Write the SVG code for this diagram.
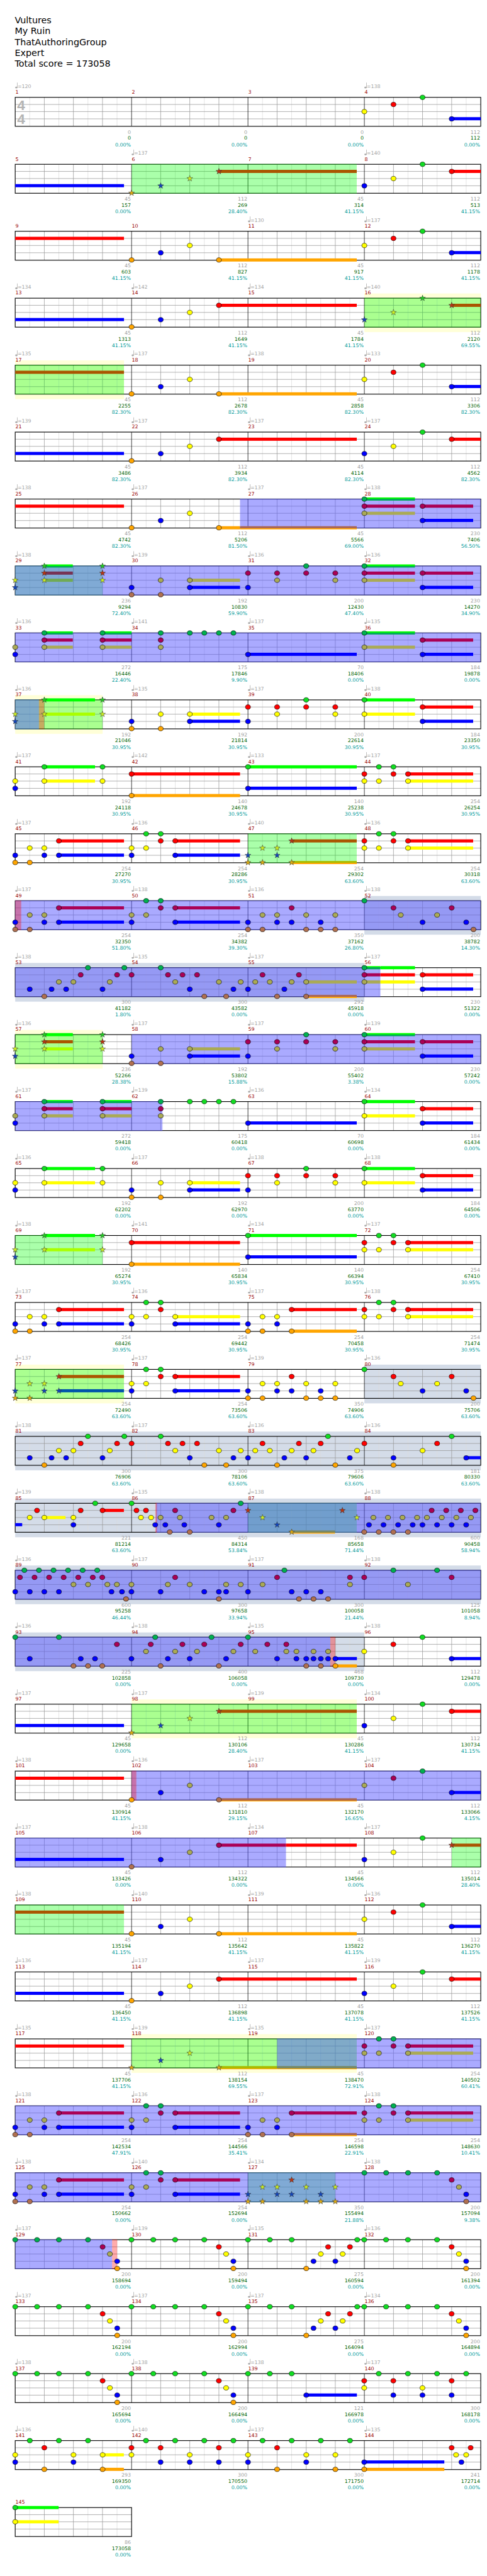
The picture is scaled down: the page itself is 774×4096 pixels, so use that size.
<svg xmlns="http://www.w3.org/2000/svg" xmlns:xlink="http://www.w3.org/1999/xlink" width="774" height="4096" viewBox="0 0 774 4096">
<style>
text{font-family:"DejaVu Sans","Liberation Sans",sans-serif;font-size:10.5px}
.tp{fill:#a4a4a4}.mn{fill:#990000}.la{fill:#a0a0a0;text-anchor:end}.lb{fill:#006400;text-anchor:end}.lc{fill:#009a9a;text-anchor:end}
.ti{font-size:19px;fill:#000}
.sig{font-family:"Liberation Sans",sans-serif;font-size:30px;font-weight:bold;fill:#b4b4b4}
.gz{fill:#00ff00;fill-opacity:.333}.pz{fill:#5555ff;fill-opacity:.5}.kz{fill:#ff0000;fill-opacity:.33}.yb{fill:#ffffd8}.bb{fill:#d4dce8}
.bG{fill:#00ff00}.bR{fill:#ff0000}.bY{fill:#ffff00}.bB{fill:#0000ff}.bO{fill:#ffa500}
.pG{fill:url(#gG)}.pR{fill:#aa0055}.pY{fill:#aaaa55}.pB{fill:#0000ff}.pO{fill:url(#gO)}
.hR{fill:#aa5500}.hY{fill:#aaff00}.hB{fill:#0055aa}.hO{fill:url(#gH)}
.qR{fill:#773355}.qY{fill:#70aa55}.qO{fill:url(#gQ)}
</style>
<defs>
<linearGradient id="gG" x1="0" y1="0" x2="0" y2="1"><stop offset=".45" stop-color="#00ff00"/><stop offset=".45" stop-color="#00aa55"/></linearGradient>
<linearGradient id="gO" x1="0" y1="0" x2="0" y2="1"><stop offset=".7" stop-color="#aa6655"/><stop offset=".7" stop-color="#ffa500"/></linearGradient>
<linearGradient id="gH" x1="0" y1="0" x2="0" y2="1"><stop offset=".7" stop-color="#aabb00"/><stop offset=".7" stop-color="#ffa500"/></linearGradient>
<linearGradient id="gQ" x1="0" y1="0" x2="0" y2="1"><stop offset=".7" stop-color="#778866"/><stop offset=".7" stop-color="#ffa500"/></linearGradient>
<ellipse id="nG" cy="205" rx="5.3" ry="4.8" fill="#11dd22" stroke="#000" stroke-width=".8"/>
<ellipse id="nR" cy="220" rx="5.3" ry="4.8" fill="#ff0000" stroke="#000" stroke-width=".8"/>
<ellipse id="nY" cy="235" rx="5.3" ry="4.8" fill="#ffff00" stroke="#000" stroke-width=".8"/>
<ellipse id="nB" cy="250.3" rx="5.3" ry="4.8" fill="#0000ff" stroke="#000" stroke-width=".8"/>
<ellipse id="nO" cy="265.5" rx="5.3" ry="4.8" fill="#ffa500" stroke="#000" stroke-width=".8"/>
<ellipse id="sG" cy="205" rx="5.3" ry="4.8" fill="#00b050" stroke="#000" stroke-width=".8"/>
<ellipse id="sR" cy="220" rx="5.3" ry="4.8" fill="#aa0055" stroke="#000" stroke-width=".8"/>
<ellipse id="sY" cy="235" rx="5.3" ry="4.8" fill="#aaaa55" stroke="#000" stroke-width=".8"/>
<ellipse id="sB" cy="250.3" rx="5.3" ry="4.8" fill="#0000ff" stroke="#000" stroke-width=".8"/>
<ellipse id="sO" cy="265.5" rx="5.3" ry="4.8" fill="#b07050" stroke="#000" stroke-width=".8"/>
<path id="tG" transform="translate(0,205)" d="M0,-6.5L1.53,-2.1 6.18,-2.01 2.47,.8 3.82,5.26 0,2.6-3.82,5.26-2.47,.8-6.18,-2.01-1.53,-2.1Z" fill="#22cc22" stroke="#333" stroke-width=".7"/>
<path id="tR" transform="translate(0,220)" d="M0,-6.5L1.53,-2.1 6.18,-2.01 2.47,.8 3.82,5.26 0,2.6-3.82,5.26-2.47,.8-6.18,-2.01-1.53,-2.1Z" fill="#bb3311" stroke="#333" stroke-width=".7"/>
<path id="tY" transform="translate(0,235)" d="M0,-6.5L1.53,-2.1 6.18,-2.01 2.47,.8 3.82,5.26 0,2.6-3.82,5.26-2.47,.8-6.18,-2.01-1.53,-2.1Z" fill="#ccee22" stroke="#333" stroke-width=".7"/>
<path id="tB" transform="translate(0,250.3)" d="M0,-6.5L1.53,-2.1 6.18,-2.01 2.47,.8 3.82,5.26 0,2.6-3.82,5.26-2.47,.8-6.18,-2.01-1.53,-2.1Z" fill="#1144bb" stroke="#333" stroke-width=".7"/>
<path id="tO" transform="translate(0,265.5)" d="M0,-6.5L1.53,-2.1 6.18,-2.01 2.47,.8 3.82,5.26 0,2.6-3.82,5.26-2.47,.8-6.18,-2.01-1.53,-2.1Z" fill="#ddaa11" stroke="#333" stroke-width=".7"/>
<g id="tq" fill="#aaaaaa"><ellipse cx="2.4" cy="184.3" rx="2.4" ry="1.9"/><rect x="4" y="174" width="1" height="10.5"/></g>
<g id="grid" fill="none">
<path stroke="#dddddd" d="M62.6,205V266M123.9,205V266M185.1,205V266M246.4,205V266M307.6,205V266M368.9,205V266M430.1,205V266M491.4,205V266M552.6,205V266M613.9,205V266M675.1,205V266M736.4,205V266M797.6,205V266M858.9,205V266M920.1,205V266M981.4,205V266"/>
<path stroke="#999999" d="M93.3,205V266M154.5,205V266M215.8,205V266M338.3,205V266M399.5,205V266M460.8,205V266M583.3,205V266M644.5,205V266M705.8,205V266M828.3,205V266M889.5,205V266M950.8,205V266M32,220H1012M32,235H1012M32,250.3H1012"/>
<path stroke="#000" d="M277,205V266M522,205V266M767,205V266"/>
<rect x="32" y="205" width="980" height="61" stroke="#000" stroke-width="1.5"/>
</g>
<g id="grid1" fill="none">
<path stroke="#dddddd" d="M62.6,205V266M123.9,205V266M185.1,205V266M246.4,205V266"/>
<path stroke="#999999" d="M93.3,205V266M154.5,205V266M215.8,205V266M32,220H277M32,235H277M32,250.3H277"/>
<rect x="32" y="205" width="245" height="61" stroke="#000" stroke-width="1.5"/>
</g>
</defs>
<rect width="774" height="4096" fill="#fff"/>
<g transform="scale(0.755)">
<g id="title">
<text class="ti" x="31" y="49">Vultures</text>
<text class="ti" x="31" y="72">My Ruin</text>
<text class="ti" x="31" y="95">ThatAuthoringGroup</text>
<text class="ti" x="31" y="118">Expert</text>
<text class="ti" x="31" y="141">Total score = 173058</text>
</g>

<g id="row1">
<use href="#grid"/>
<text class="sig" x="36" y="231.5">4</text><text class="sig" x="36" y="261.5">4</text>
<use href="#tq" x="32"/><use href="#tq" x="767"/>
<text class="tp" y="185"><tspan x="37">=120</tspan><tspan x="772">=138</tspan></text>
<text class="mn" y="197.5"><tspan x="32.5">1</tspan><tspan x="277.5">2</tspan><tspan x="522.5">3</tspan><tspan x="767.5">4</tspan></text>
<text class="la" y="281.5"><tspan x="275.5">0</tspan><tspan x="520.5">0</tspan><tspan x="765.5">0</tspan><tspan x="1010.5">112</tspan></text>
<text class="lb" y="294.5"><tspan x="275.5">0</tspan><tspan x="520.5">0</tspan><tspan x="765.5">0</tspan><tspan x="1010.5">112</tspan></text>
<text class="lc" y="308"><tspan x="275.5">0.00%</tspan><tspan x="520.5">0.00%</tspan><tspan x="765.5">0.00%</tspan><tspan x="1010.5">0.00%</tspan></text>
<rect class="bB" x="950.8" y="246.7" width="61.2" height="6.6"/>
<use href="#nY" x="767"/><use href="#nR" x="828.3"/><use href="#nG" x="889.5"/><use href="#nB" x="950.8"/>
</g>

<g id="row2" transform="translate(0,141)">
<use href="#grid"/>
<rect class="gz" x="277" y="204.2" width="474" height="62.6"/>
<use href="#tq" x="277"/><use href="#tq" x="767"/>
<text class="tp" y="185"><tspan x="282">=137</tspan><tspan x="772">=140</tspan></text>
<text class="mn" y="197.5"><tspan x="32.5">5</tspan><tspan x="277.5">6</tspan><tspan x="522.5">7</tspan><tspan x="767.5">8</tspan></text>
<text class="la" y="281.5"><tspan x="275.5">45</tspan><tspan x="520.5">112</tspan><tspan x="765.5">45</tspan><tspan x="1010.5">112</tspan></text>
<text class="lb" y="294.5"><tspan x="275.5">157</tspan><tspan x="520.5">269</tspan><tspan x="765.5">314</tspan><tspan x="1010.5">513</tspan></text>
<text class="lc" y="308"><tspan x="275.5">0.00%</tspan><tspan x="520.5">28.40%</tspan><tspan x="765.5">41.15%</tspan><tspan x="1010.5">41.15%</tspan></text>
<rect class="bB" x="32" y="246.7" width="229" height="6.6"/><rect class="hR" x="460.8" y="216.7" width="290.2" height="6.6"/><rect class="bR" x="950.8" y="216.7" width="61.2" height="6.6"/>
<use href="#tO" x="277"/><use href="#tB" x="338.3"/><use href="#tY" x="399.5"/><use href="#tR" x="460.8"/>
<use href="#nB" x="767"/><use href="#nY" x="828.3"/><use href="#nG" x="889.5"/><use href="#nR" x="950.8"/>
</g>

<g id="row3" transform="translate(0,282)">
<use href="#grid"/>
<use href="#tq" x="522"/><use href="#tq" x="767"/>
<text class="tp" y="185"><tspan x="527">=130</tspan><tspan x="772">=137</tspan></text>
<text class="mn" y="197.5"><tspan x="32.5">9</tspan><tspan x="277.5">10</tspan><tspan x="522.5">11</tspan><tspan x="767.5">12</tspan></text>
<text class="la" y="281.5"><tspan x="275.5">45</tspan><tspan x="520.5">112</tspan><tspan x="765.5">45</tspan><tspan x="1010.5">112</tspan></text>
<text class="lb" y="294.5"><tspan x="275.5">603</tspan><tspan x="520.5">827</tspan><tspan x="765.5">917</tspan><tspan x="1010.5">1178</tspan></text>
<text class="lc" y="308"><tspan x="275.5">41.15%</tspan><tspan x="520.5">41.15%</tspan><tspan x="765.5">41.15%</tspan><tspan x="1010.5">41.15%</tspan></text>
<rect class="bR" x="32" y="216.7" width="229" height="6.6"/><rect class="bO" x="460.8" y="262.2" width="290.2" height="6.6"/><rect class="bB" x="950.8" y="246.7" width="61.2" height="6.6"/>
<use href="#nO" x="277"/><use href="#nB" x="338.3"/><use href="#nY" x="399.5"/><use href="#nO" x="460.8"/>
<use href="#nY" x="767"/><use href="#nR" x="828.3"/><use href="#nG" x="889.5"/><use href="#nB" x="950.8"/>
</g>

<g id="row4" transform="translate(0,423)">
<rect class="yb" x="767" y="195" width="245" height="81.5"/>
<use href="#grid"/>
<rect class="gz" x="767" y="204.2" width="245" height="62.6"/>
<use href="#tq" x="32"/><use href="#tq" x="277"/><use href="#tq" x="522"/><use href="#tq" x="767"/>
<text class="tp" y="185"><tspan x="37">=134</tspan><tspan x="282">=142</tspan><tspan x="527">=134</tspan><tspan x="772">=140</tspan></text>
<text class="mn" y="197.5"><tspan x="32.5">13</tspan><tspan x="277.5">14</tspan><tspan x="522.5">15</tspan><tspan x="767.5">16</tspan></text>
<text class="la" y="281.5"><tspan x="275.5">45</tspan><tspan x="520.5">112</tspan><tspan x="765.5">45</tspan><tspan x="1010.5">112</tspan></text>
<text class="lb" y="294.5"><tspan x="275.5">1313</tspan><tspan x="520.5">1649</tspan><tspan x="765.5">1784</tspan><tspan x="1010.5">2120</tspan></text>
<text class="lc" y="308"><tspan x="275.5">41.15%</tspan><tspan x="520.5">41.15%</tspan><tspan x="765.5">41.15%</tspan><tspan x="1010.5">69.55%</tspan></text>
<rect class="bB" x="32" y="246.7" width="229" height="6.6"/><rect class="bR" x="460.8" y="216.7" width="290.2" height="6.6"/><rect class="hR" x="950.8" y="216.7" width="61.2" height="6.6"/>
<use href="#nO" x="277"/><use href="#nB" x="338.3"/><use href="#nY" x="399.5"/><use href="#nR" x="460.8"/>
<use href="#tB" x="767"/><use href="#tY" x="828.3"/><use href="#tG" x="889.5"/><use href="#tR" x="950.8"/>
</g>

<g id="row5" transform="translate(0,564)">
<rect class="yb" x="32" y="195" width="229" height="81.5"/>
<use href="#grid"/>
<rect class="gz" x="32" y="204.2" width="229" height="62.6"/>
<use href="#tq" x="32"/><use href="#tq" x="277"/><use href="#tq" x="522"/><use href="#tq" x="767"/>
<text class="tp" y="185"><tspan x="37">=135</tspan><tspan x="282">=137</tspan><tspan x="527">=138</tspan><tspan x="772">=133</tspan></text>
<text class="mn" y="197.5"><tspan x="32.5">17</tspan><tspan x="277.5">18</tspan><tspan x="522.5">19</tspan><tspan x="767.5">20</tspan></text>
<text class="la" y="281.5"><tspan x="275.5">45</tspan><tspan x="520.5">112</tspan><tspan x="765.5">45</tspan><tspan x="1010.5">112</tspan></text>
<text class="lb" y="294.5"><tspan x="275.5">2255</tspan><tspan x="520.5">2678</tspan><tspan x="765.5">2858</tspan><tspan x="1010.5">3306</tspan></text>
<text class="lc" y="308"><tspan x="275.5">82.30%</tspan><tspan x="520.5">82.30%</tspan><tspan x="765.5">82.30%</tspan><tspan x="1010.5">82.30%</tspan></text>
<rect class="hR" x="32" y="216.7" width="229" height="6.6"/><rect class="bO" x="460.8" y="262.2" width="290.2" height="6.6"/><rect class="bB" x="950.8" y="246.7" width="61.2" height="6.6"/>
<use href="#nO" x="277"/><use href="#nB" x="338.3"/><use href="#nY" x="399.5"/><use href="#nO" x="460.8"/>
<use href="#nY" x="767"/><use href="#nR" x="828.3"/><use href="#nG" x="889.5"/><use href="#nB" x="950.8"/>
</g>

<g id="row6" transform="translate(0,705)">
<use href="#grid"/>
<use href="#tq" x="32"/><use href="#tq" x="277"/><use href="#tq" x="522"/><use href="#tq" x="767"/>
<text class="tp" y="185"><tspan x="37">=139</tspan><tspan x="282">=137</tspan><tspan x="527">=137</tspan><tspan x="772">=137</tspan></text>
<text class="mn" y="197.5"><tspan x="32.5">21</tspan><tspan x="277.5">22</tspan><tspan x="522.5">23</tspan><tspan x="767.5">24</tspan></text>
<text class="la" y="281.5"><tspan x="275.5">45</tspan><tspan x="520.5">112</tspan><tspan x="765.5">45</tspan><tspan x="1010.5">112</tspan></text>
<text class="lb" y="294.5"><tspan x="275.5">3486</tspan><tspan x="520.5">3934</tspan><tspan x="765.5">4114</tspan><tspan x="1010.5">4562</tspan></text>
<text class="lc" y="308"><tspan x="275.5">82.30%</tspan><tspan x="520.5">82.30%</tspan><tspan x="765.5">82.30%</tspan><tspan x="1010.5">82.30%</tspan></text>
<rect class="bB" x="32" y="246.7" width="229" height="6.6"/><rect class="bR" x="460.8" y="216.7" width="290.2" height="6.6"/><rect class="bR" x="950.8" y="216.7" width="61.2" height="6.6"/>
<use href="#nO" x="277"/><use href="#nB" x="338.3"/><use href="#nY" x="399.5"/><use href="#nR" x="460.8"/>
<use href="#nB" x="767"/><use href="#nY" x="828.3"/><use href="#nG" x="889.5"/><use href="#nR" x="950.8"/>
</g>

<g id="row7" transform="translate(0,846)">
<use href="#grid"/>
<rect class="pz" x="505.3" y="204.2" width="506.7" height="62.6"/>
<use href="#tq" x="32"/><use href="#tq" x="277"/><use href="#tq" x="522"/><use href="#tq" x="767"/>
<text class="tp" y="185"><tspan x="37">=138</tspan><tspan x="282">=137</tspan><tspan x="527">=137</tspan><tspan x="772">=138</tspan></text>
<text class="mn" y="197.5"><tspan x="32.5">25</tspan><tspan x="277.5">26</tspan><tspan x="522.5">27</tspan><tspan x="767.5">28</tspan></text>
<text class="la" y="281.5"><tspan x="275.5">45</tspan><tspan x="520.5">112</tspan><tspan x="765.5">45</tspan><tspan x="1010.5">230</tspan></text>
<text class="lb" y="294.5"><tspan x="275.5">4742</tspan><tspan x="520.5">5206</tspan><tspan x="765.5">5566</tspan><tspan x="1010.5">7406</tspan></text>
<text class="lc" y="308"><tspan x="275.5">82.30%</tspan><tspan x="520.5">81.50%</tspan><tspan x="765.5">69.00%</tspan><tspan x="1010.5">56.50%</tspan></text>
<rect class="bR" x="32" y="216.7" width="229" height="6.6"/><rect class="bO" x="460.8" y="262.2" width="44.5" height="6.6"/><rect class="pO" x="505.3" y="262.2" width="245.7" height="6.6"/>
<rect class="pG" x="767" y="201.7" width="106.5" height="6.6"/><rect class="pR" x="767" y="216.7" width="106.5" height="6.6"/><rect class="pY" x="767" y="231.7" width="106.5" height="6.6"/><rect class="pR" x="889.5" y="216.7" width="106.5" height="6.6"/><rect class="pB" x="889.5" y="246.7" width="106.5" height="6.6"/>
<use href="#nO" x="277"/><use href="#nB" x="338.3"/><use href="#nY" x="399.5"/><use href="#nO" x="460.8"/>
<use href="#sG" x="767"/><use href="#sR" x="767"/><use href="#sY" x="767"/><use href="#sR" x="889.5"/><use href="#sB" x="889.5"/>
</g>

<g id="row8" transform="translate(0,987)">
<use href="#grid"/>
<rect class="gz" x="32" y="204.2" width="184" height="62.6"/>
<rect class="pz" x="32" y="204.2" width="980" height="62.6"/>
<use href="#tq" x="32"/><use href="#tq" x="277"/><use href="#tq" x="522"/><use href="#tq" x="767"/>
<text class="tp" y="185"><tspan x="37">=138</tspan><tspan x="282">=139</tspan><tspan x="527">=136</tspan><tspan x="772">=136</tspan></text>
<text class="mn" y="197.5"><tspan x="32.5">29</tspan><tspan x="277.5">30</tspan><tspan x="522.5">31</tspan><tspan x="767.5">32</tspan></text>
<text class="la" y="281.5"><tspan x="275.5">236</tspan><tspan x="520.5">192</tspan><tspan x="765.5">200</tspan><tspan x="1010.5">230</tspan></text>
<text class="lb" y="294.5"><tspan x="275.5">9294</tspan><tspan x="520.5">10830</tspan><tspan x="765.5">12430</tspan><tspan x="1010.5">14270</tspan></text>
<text class="lc" y="308"><tspan x="275.5">72.40%</tspan><tspan x="520.5">59.90%</tspan><tspan x="765.5">47.40%</tspan><tspan x="1010.5">34.90%</tspan></text>
<rect class="pG" x="93.3" y="201.7" width="60" height="6.6"/><rect class="qR" x="93.3" y="216.7" width="60" height="6.6"/><rect class="qY" x="93.3" y="231.7" width="60" height="6.6"/>
<rect class="pY" x="399.5" y="231.7" width="105.8" height="6.6"/><rect class="pB" x="399.5" y="246.7" width="105.8" height="6.6"/>
<rect class="pG" x="767" y="201.7" width="106.5" height="6.6"/><rect class="pR" x="767" y="216.7" width="106.5" height="6.6"/><rect class="pY" x="767" y="231.7" width="106.5" height="6.6"/><rect class="pR" x="889.5" y="216.7" width="106.5" height="6.6"/><rect class="pB" x="889.5" y="246.7" width="106.5" height="6.6"/>
<use href="#tY" x="32"/><use href="#tB" x="32"/><use href="#tG" x="93.3"/><use href="#tR" x="93.3"/><use href="#tY" x="93.3"/><use href="#tG" x="215.8"/><use href="#tR" x="215.8"/><use href="#tY" x="215.8"/>
<use href="#sB" x="277"/><use href="#sO" x="277"/><use href="#sY" x="338.3"/><use href="#sO" x="338.3"/><use href="#sY" x="399.5"/><use href="#sB" x="399.5"/><use href="#sR" x="522"/><use href="#sB" x="522"/><use href="#sR" x="583.3"/><use href="#sY" x="583.3"/><use href="#sG" x="644.5"/><use href="#sR" x="644.5"/><use href="#sR" x="705.8"/><use href="#sY" x="705.8"/><use href="#sG" x="767"/><use href="#sR" x="767"/><use href="#sY" x="767"/><use href="#sR" x="889.5"/><use href="#sB" x="889.5"/>
</g>

<g id="row9" transform="translate(0,1128)">
<use href="#grid"/>
<rect class="pz" x="32" y="204.2" width="980" height="62.6"/>
<use href="#tq" x="32"/><use href="#tq" x="277"/><use href="#tq" x="522"/><use href="#tq" x="767"/>
<text class="tp" y="185"><tspan x="37">=136</tspan><tspan x="282">=141</tspan><tspan x="527">=137</tspan><tspan x="772">=135</tspan></text>
<text class="mn" y="197.5"><tspan x="32.5">33</tspan><tspan x="277.5">34</tspan><tspan x="522.5">35</tspan><tspan x="767.5">36</tspan></text>
<text class="la" y="281.5"><tspan x="275.5">272</tspan><tspan x="520.5">175</tspan><tspan x="765.5">70</tspan><tspan x="1010.5">184</tspan></text>
<text class="lb" y="294.5"><tspan x="275.5">16446</tspan><tspan x="520.5">17846</tspan><tspan x="765.5">18406</tspan><tspan x="1010.5">19878</tspan></text>
<text class="lc" y="308"><tspan x="275.5">22.40%</tspan><tspan x="520.5">9.90%</tspan><tspan x="765.5">0.00%</tspan><tspan x="1010.5">0.00%</tspan></text>
<rect class="pG" x="93.3" y="201.7" width="60" height="6.6"/><rect class="pR" x="93.3" y="216.7" width="60" height="6.6"/><rect class="pY" x="93.3" y="231.7" width="60" height="6.6"/>
<rect class="pG" x="215.8" y="201.7" width="61.2" height="6.6"/><rect class="pR" x="215.8" y="216.7" width="61.2" height="6.6"/><rect class="pY" x="215.8" y="231.7" width="61.2" height="6.6"/>
<rect class="pB" x="522" y="246.7" width="229" height="6.6"/>
<rect class="pG" x="767" y="201.7" width="106.5" height="6.6"/><rect class="pY" x="767" y="231.7" width="106.5" height="6.6"/><rect class="pR" x="889.5" y="216.7" width="106.5" height="6.6"/><rect class="pB" x="889.5" y="246.7" width="106.5" height="6.6"/>
<use href="#sY" x="32"/><use href="#sB" x="32"/><use href="#sG" x="93.3"/><use href="#sR" x="93.3"/><use href="#sY" x="93.3"/><use href="#sG" x="215.8"/><use href="#sR" x="215.8"/><use href="#sY" x="215.8"/><use href="#sG" x="338.3"/><use href="#sR" x="338.3"/><use href="#sY" x="338.3"/><use href="#sG" x="399.5"/><use href="#sG" x="430.1"/><use href="#sG" x="460.8"/><use href="#sG" x="491.4"/><use href="#sB" x="522"/><use href="#sG" x="767"/><use href="#sY" x="767"/><use href="#sR" x="889.5"/><use href="#sB" x="889.5"/>
</g>

<g id="row10" transform="translate(0,1269)">
<rect class="yb" x="32" y="195" width="184" height="81.5"/>
<use href="#grid"/>
<rect class="gz" x="32" y="204.2" width="184" height="62.6"/>
<rect class="pz" x="32" y="204.2" width="50" height="62.6"/>
<rect class="kz" x="82" y="204.2" width="11" height="62.6"/>
<use href="#tq" x="32"/><use href="#tq" x="277"/><use href="#tq" x="522"/><use href="#tq" x="767"/>
<text class="tp" y="185"><tspan x="37">=136</tspan><tspan x="282">=135</tspan><tspan x="527">=137</tspan><tspan x="772">=138</tspan></text>
<text class="mn" y="197.5"><tspan x="32.5">37</tspan><tspan x="277.5">38</tspan><tspan x="522.5">39</tspan><tspan x="767.5">40</tspan></text>
<text class="la" y="281.5"><tspan x="275.5">192</tspan><tspan x="520.5">192</tspan><tspan x="765.5">200</tspan><tspan x="1010.5">184</tspan></text>
<text class="lb" y="294.5"><tspan x="275.5">21046</tspan><tspan x="520.5">21814</tspan><tspan x="765.5">22614</tspan><tspan x="1010.5">23350</tspan></text>
<text class="lc" y="308"><tspan x="275.5">30.95%</tspan><tspan x="520.5">30.95%</tspan><tspan x="765.5">30.95%</tspan><tspan x="1010.5">30.95%</tspan></text>
<rect class="bG" x="93.3" y="201.7" width="106.7" height="6.6"/><rect class="hY" x="93.3" y="231.7" width="106.7" height="6.6"/>
<rect class="bY" x="399.5" y="231.7" width="105.8" height="6.6"/><rect class="bB" x="399.5" y="246.7" width="105.8" height="6.6"/>
<rect class="bG" x="767" y="201.7" width="106.5" height="6.6"/><rect class="bY" x="767" y="231.7" width="106.5" height="6.6"/><rect class="bR" x="889.5" y="216.7" width="106.5" height="6.6"/><rect class="bB" x="889.5" y="246.7" width="106.5" height="6.6"/>
<use href="#tY" x="32"/><use href="#tB" x="32"/><use href="#tG" x="93.3"/><use href="#tY" x="93.3"/><use href="#tG" x="215.8"/><use href="#tY" x="215.8"/>
<use href="#nB" x="277"/><use href="#nO" x="277"/><use href="#nY" x="338.3"/><use href="#nO" x="338.3"/><use href="#nY" x="399.5"/><use href="#nB" x="399.5"/><use href="#nR" x="522"/><use href="#nB" x="522"/><use href="#nR" x="583.3"/><use href="#nY" x="583.3"/><use href="#nG" x="644.5"/><use href="#nR" x="644.5"/><use href="#nR" x="705.8"/><use href="#nY" x="705.8"/><use href="#nG" x="767"/><use href="#nY" x="767"/><use href="#nR" x="889.5"/><use href="#nB" x="889.5"/>
</g>

<g id="row11" transform="translate(0,1410)">
<use href="#grid"/>
<use href="#tq" x="32"/><use href="#tq" x="277"/><use href="#tq" x="522"/><use href="#tq" x="767"/>
<text class="tp" y="185"><tspan x="37">=137</tspan><tspan x="282">=142</tspan><tspan x="527">=133</tspan><tspan x="772">=137</tspan></text>
<text class="mn" y="197.5"><tspan x="32.5">41</tspan><tspan x="277.5">42</tspan><tspan x="522.5">43</tspan><tspan x="767.5">44</tspan></text>
<text class="la" y="281.5"><tspan x="275.5">192</tspan><tspan x="520.5">140</tspan><tspan x="765.5">140</tspan><tspan x="1010.5">254</tspan></text>
<text class="lb" y="294.5"><tspan x="275.5">24118</tspan><tspan x="520.5">24678</tspan><tspan x="765.5">25238</tspan><tspan x="1010.5">26254</tspan></text>
<text class="lc" y="308"><tspan x="275.5">30.95%</tspan><tspan x="520.5">30.95%</tspan><tspan x="765.5">30.95%</tspan><tspan x="1010.5">30.95%</tspan></text>
<rect class="bG" x="93.3" y="201.7" width="106.7" height="6.6"/><rect class="bY" x="93.3" y="231.7" width="106.7" height="6.6"/>
<rect class="bR" x="277" y="216.7" width="228.3" height="6.6"/><rect class="bO" x="277" y="262.2" width="228.3" height="6.6"/>
<rect class="bG" x="522" y="201.7" width="229" height="6.6"/><rect class="bB" x="522" y="246.7" width="229" height="6.6"/>
<rect class="bR" x="858.9" y="216.7" width="137.1" height="6.6"/><rect class="bY" x="858.9" y="231.7" width="137.1" height="6.6"/>
<use href="#nY" x="32"/><use href="#nB" x="32"/><use href="#nG" x="93.3"/><use href="#nY" x="93.3"/><use href="#nG" x="215.8"/><use href="#nY" x="215.8"/><use href="#nR" x="277"/><use href="#nO" x="277"/><use href="#nG" x="522"/><use href="#nB" x="522"/><use href="#nR" x="767"/><use href="#nY" x="767"/><use href="#nG" x="797.6"/><use href="#nY" x="797.6"/><use href="#nG" x="828.3"/><use href="#nR" x="828.3"/><use href="#nR" x="858.9"/><use href="#nY" x="858.9"/>
</g>

<g id="row12" transform="translate(0,1551)">
<use href="#grid"/>
<rect class="gz" x="522" y="204.2" width="229" height="62.6"/>
<use href="#tq" x="32"/><use href="#tq" x="277"/><use href="#tq" x="522"/><use href="#tq" x="767"/>
<text class="tp" y="185"><tspan x="37">=137</tspan><tspan x="282">=136</tspan><tspan x="527">=140</tspan><tspan x="772">=136</tspan></text>
<text class="mn" y="197.5"><tspan x="32.5">45</tspan><tspan x="277.5">46</tspan><tspan x="522.5">47</tspan><tspan x="767.5">48</tspan></text>
<text class="la" y="281.5"><tspan x="275.5">254</tspan><tspan x="520.5">254</tspan><tspan x="765.5">254</tspan><tspan x="1010.5">254</tspan></text>
<text class="lb" y="294.5"><tspan x="275.5">27270</tspan><tspan x="520.5">28286</tspan><tspan x="765.5">29302</tspan><tspan x="1010.5">30318</tspan></text>
<text class="lc" y="308"><tspan x="275.5">30.95%</tspan><tspan x="520.5">30.95%</tspan><tspan x="765.5">63.60%</tspan><tspan x="1010.5">63.60%</tspan></text>
<rect class="bR" x="123.9" y="216.7" width="137.1" height="6.6"/><rect class="bB" x="123.9" y="246.7" width="137.1" height="6.6"/>
<rect class="bR" x="368.9" y="216.7" width="136.4" height="6.6"/><rect class="bB" x="368.9" y="246.7" width="136.4" height="6.6"/>
<rect class="hR" x="613.9" y="216.7" width="137.1" height="6.6"/><rect class="hO" x="613.9" y="262.2" width="137.1" height="6.6"/>
<rect class="bR" x="858.9" y="216.7" width="137.1" height="6.6"/><rect class="bY" x="858.9" y="231.7" width="137.1" height="6.6"/>
<use href="#nB" x="32"/><use href="#nO" x="32"/><use href="#nY" x="62.6"/><use href="#nO" x="62.6"/><use href="#nY" x="93.3"/><use href="#nB" x="93.3"/><use href="#nR" x="123.9"/><use href="#nB" x="123.9"/><use href="#nY" x="277"/><use href="#nB" x="277"/><use href="#nG" x="307.6"/><use href="#nY" x="307.6"/><use href="#nG" x="338.3"/><use href="#nR" x="338.3"/><use href="#nR" x="368.9"/><use href="#nB" x="368.9"/>
<use href="#tB" x="522"/><use href="#tO" x="522"/><use href="#tY" x="552.6"/><use href="#tO" x="552.6"/><use href="#tY" x="583.3"/><use href="#tB" x="583.3"/><use href="#tR" x="613.9"/><use href="#tO" x="613.9"/>
<use href="#nR" x="767"/><use href="#nY" x="767"/><use href="#nG" x="797.6"/><use href="#nY" x="797.6"/><use href="#nG" x="828.3"/><use href="#nR" x="828.3"/><use href="#nR" x="858.9"/><use href="#nY" x="858.9"/>
</g>

<g id="row13" transform="translate(0,1692)">
<rect class="bb" x="767" y="195" width="245" height="81.5"/>
<use href="#grid"/>
<rect class="pz" x="32" y="204.2" width="980" height="62.6"/>
<rect class="kz" x="32" y="204.2" width="12.7" height="62.6"/>
<use href="#tq" x="32"/><use href="#tq" x="277"/><use href="#tq" x="522"/><use href="#tq" x="767"/>
<text class="tp" y="185"><tspan x="37">=137</tspan><tspan x="282">=138</tspan><tspan x="527">=136</tspan><tspan x="772">=138</tspan></text>
<text class="mn" y="197.5"><tspan x="32.5">49</tspan><tspan x="277.5">50</tspan><tspan x="522.5">51</tspan><tspan x="767.5">52</tspan></text>
<text class="la" y="281.5"><tspan x="275.5">254</tspan><tspan x="520.5">254</tspan><tspan x="765.5">350</tspan><tspan x="1010.5">200</tspan></text>
<text class="lb" y="294.5"><tspan x="275.5">32350</tspan><tspan x="520.5">34382</tspan><tspan x="765.5">37162</tspan><tspan x="1010.5">38782</tspan></text>
<text class="lc" y="308"><tspan x="275.5">51.80%</tspan><tspan x="520.5">39.30%</tspan><tspan x="765.5">26.80%</tspan><tspan x="1010.5">14.30%</tspan></text>
<rect class="pR" x="123.9" y="216.7" width="137.1" height="6.6"/><rect class="pB" x="123.9" y="246.7" width="137.1" height="6.6"/>
<rect class="pR" x="368.9" y="216.7" width="136.4" height="6.6"/><rect class="pB" x="368.9" y="246.7" width="136.4" height="6.6"/>
<use href="#sB" x="32"/><use href="#sO" x="32"/><use href="#sY" x="62.6"/><use href="#sO" x="62.6"/><use href="#sY" x="93.3"/><use href="#sB" x="93.3"/><use href="#sR" x="123.9"/><use href="#sB" x="123.9"/><use href="#sY" x="277"/><use href="#sB" x="277"/><use href="#sG" x="307.6"/><use href="#sY" x="307.6"/><use href="#sG" x="338.3"/><use href="#sR" x="338.3"/><use href="#sR" x="368.9"/><use href="#sB" x="368.9"/>
<use href="#sB" x="522"/><use href="#sO" x="522"/><use href="#sY" x="552.6"/><use href="#sO" x="552.6"/><use href="#sY" x="583.3"/><use href="#sB" x="583.3"/><use href="#sR" x="613.9"/><use href="#sB" x="613.9"/><use href="#sY" x="644.5"/><use href="#sO" x="644.5"/><use href="#sB" x="675.1"/><use href="#sO" x="675.1"/><use href="#sY" x="705.8"/><use href="#sO" x="705.8"/>
<use href="#sG" x="767"/><use href="#sR" x="828.3"/><use href="#sY" x="843.6"/><use href="#sB" x="889.5"/><use href="#sY" x="920.1"/><use href="#sR" x="950.8"/><use href="#sB" x="981.4"/><use href="#sO" x="996.7"/>
</g>

<g id="row14" transform="translate(0,1833)">
<rect class="bb" x="32" y="195" width="735" height="81.5"/>
<use href="#grid"/>
<rect class="pz" x="32" y="204.2" width="768.7" height="62.6"/>
<use href="#tq" x="32"/><use href="#tq" x="277"/><use href="#tq" x="522"/><use href="#tq" x="767"/>
<text class="tp" y="185"><tspan x="37">=138</tspan><tspan x="282">=135</tspan><tspan x="527">=137</tspan><tspan x="772">=137</tspan></text>
<text class="mn" y="197.5"><tspan x="32.5">53</tspan><tspan x="277.5">54</tspan><tspan x="522.5">55</tspan><tspan x="767.5">56</tspan></text>
<text class="la" y="281.5"><tspan x="275.5">300</tspan><tspan x="520.5">300</tspan><tspan x="765.5">292</tspan><tspan x="1010.5">230</tspan></text>
<text class="lb" y="294.5"><tspan x="275.5">41182</tspan><tspan x="520.5">43582</tspan><tspan x="765.5">45918</tspan><tspan x="1010.5">51322</tspan></text>
<text class="lc" y="308"><tspan x="275.5">1.80%</tspan><tspan x="520.5">0.00%</tspan><tspan x="765.5">0.00%</tspan><tspan x="1010.5">0.00%</tspan></text>
<rect class="pY" x="644.5" y="231.7" width="106.5" height="6.6"/><rect class="pO" x="644.5" y="262.2" width="106.5" height="6.6"/>
<rect class="pG" x="767" y="201.7" width="33.7" height="6.6"/><rect class="bG" x="800.7" y="201.7" width="72.8" height="6.6"/>
<rect class="pR" x="767" y="216.7" width="33.7" height="6.6"/><rect class="bR" x="800.7" y="216.7" width="72.8" height="6.6"/>
<rect class="pY" x="767" y="231.7" width="33.7" height="6.6"/><rect class="bY" x="800.7" y="231.7" width="72.8" height="6.6"/>
<rect class="bR" x="889.5" y="216.7" width="106.5" height="6.6"/><rect class="bB" x="889.5" y="246.7" width="106.5" height="6.6"/>
<use href="#sG" x="185.1"/><use href="#sG" x="261.7"/><use href="#sG" x="338.3"/>
<use href="#sR" x="169.8"/><use href="#sR" x="246.4"/><use href="#sR" x="277"/><use href="#sR" x="353.6"/><use href="#sR" x="384.2"/><use href="#sR" x="414.8"/><use href="#sR" x="552.6"/><use href="#sR" x="629.2"/>
<use href="#sY" x="123.9"/><use href="#sY" x="154.5"/><use href="#sY" x="231.1"/><use href="#sY" x="368.9"/><use href="#sY" x="460.8"/><use href="#sY" x="506.7"/><use href="#sY" x="537.3"/><use href="#sY" x="567.9"/><use href="#sY" x="613.9"/><use href="#sY" x="644.5"/>
<use href="#sB" x="62.6"/><use href="#sB" x="108.6"/><use href="#sB" x="139.2"/><use href="#sB" x="215.8"/><use href="#sB" x="399.5"/><use href="#sB" x="491.4"/><use href="#sB" x="522"/><use href="#sB" x="598.6"/>
<use href="#sO" x="93.3"/><use href="#sO" x="430.1"/><use href="#sO" x="476.1"/><use href="#sO" x="583.3"/><use href="#sO" x="644.5"/>
<use href="#sG" x="767"/><use href="#sR" x="767"/><use href="#sY" x="767"/><use href="#nR" x="889.5"/><use href="#nB" x="889.5"/>
</g>

<g id="row15" transform="translate(0,1974)">
<rect class="yb" x="32" y="195" width="184" height="81.5"/>
<use href="#grid"/>
<rect class="gz" x="32" y="204.2" width="184" height="62.6"/>
<rect class="pz" x="277" y="204.2" width="735" height="62.6"/>
<use href="#tq" x="32"/><use href="#tq" x="277"/><use href="#tq" x="522"/><use href="#tq" x="767"/>
<text class="tp" y="185"><tspan x="37">=136</tspan><tspan x="282">=137</tspan><tspan x="527">=137</tspan><tspan x="772">=139</tspan></text>
<text class="mn" y="197.5"><tspan x="32.5">57</tspan><tspan x="277.5">58</tspan><tspan x="522.5">59</tspan><tspan x="767.5">60</tspan></text>
<text class="la" y="281.5"><tspan x="275.5">236</tspan><tspan x="520.5">192</tspan><tspan x="765.5">200</tspan><tspan x="1010.5">230</tspan></text>
<text class="lb" y="294.5"><tspan x="275.5">52266</tspan><tspan x="520.5">53802</tspan><tspan x="765.5">55402</tspan><tspan x="1010.5">57242</tspan></text>
<text class="lc" y="308"><tspan x="275.5">28.38%</tspan><tspan x="520.5">15.88%</tspan><tspan x="765.5">3.38%</tspan><tspan x="1010.5">0.00%</tspan></text>
<rect class="bG" x="93.3" y="201.7" width="60" height="6.6"/><rect class="hR" x="93.3" y="216.7" width="60" height="6.6"/><rect class="hY" x="93.3" y="231.7" width="60" height="6.6"/>
<rect class="pY" x="399.5" y="231.7" width="105.8" height="6.6"/><rect class="pB" x="399.5" y="246.7" width="105.8" height="6.6"/>
<rect class="pG" x="767" y="201.7" width="106.5" height="6.6"/><rect class="pR" x="767" y="216.7" width="106.5" height="6.6"/><rect class="pY" x="767" y="231.7" width="106.5" height="6.6"/><rect class="pR" x="889.5" y="216.7" width="106.5" height="6.6"/><rect class="pB" x="889.5" y="246.7" width="106.5" height="6.6"/>
<use href="#tY" x="32"/><use href="#tB" x="32"/><use href="#tG" x="93.3"/><use href="#tR" x="93.3"/><use href="#tY" x="93.3"/><use href="#tG" x="215.8"/><use href="#tR" x="215.8"/><use href="#tY" x="215.8"/>
<use href="#sB" x="277"/><use href="#sO" x="277"/><use href="#sY" x="338.3"/><use href="#sO" x="338.3"/><use href="#sY" x="399.5"/><use href="#sB" x="399.5"/><use href="#sR" x="522"/><use href="#sB" x="522"/><use href="#sR" x="583.3"/><use href="#sY" x="583.3"/><use href="#sG" x="644.5"/><use href="#sR" x="644.5"/><use href="#sR" x="705.8"/><use href="#sY" x="705.8"/><use href="#sG" x="767"/><use href="#sR" x="767"/><use href="#sY" x="767"/><use href="#sR" x="889.5"/><use href="#sB" x="889.5"/>
</g>

<g id="row16" transform="translate(0,2115)">
<use href="#grid"/>
<rect class="pz" x="32" y="204.2" width="310" height="62.6"/>
<use href="#tq" x="32"/><use href="#tq" x="277"/><use href="#tq" x="522"/><use href="#tq" x="767"/>
<text class="tp" y="185"><tspan x="37">=137</tspan><tspan x="282">=139</tspan><tspan x="527">=136</tspan><tspan x="772">=134</tspan></text>
<text class="mn" y="197.5"><tspan x="32.5">61</tspan><tspan x="277.5">62</tspan><tspan x="522.5">63</tspan><tspan x="767.5">64</tspan></text>
<text class="la" y="281.5"><tspan x="275.5">272</tspan><tspan x="520.5">175</tspan><tspan x="765.5">70</tspan><tspan x="1010.5">184</tspan></text>
<text class="lb" y="294.5"><tspan x="275.5">59418</tspan><tspan x="520.5">60418</tspan><tspan x="765.5">60698</tspan><tspan x="1010.5">61434</tspan></text>
<text class="lc" y="308"><tspan x="275.5">0.00%</tspan><tspan x="520.5">0.00%</tspan><tspan x="765.5">0.00%</tspan><tspan x="1010.5">0.00%</tspan></text>
<rect class="pG" x="93.3" y="201.7" width="60" height="6.6"/><rect class="pR" x="93.3" y="216.7" width="60" height="6.6"/><rect class="pY" x="93.3" y="231.7" width="60" height="6.6"/>
<rect class="pG" x="215.8" y="201.7" width="61.2" height="6.6"/><rect class="pR" x="215.8" y="216.7" width="61.2" height="6.6"/><rect class="pY" x="215.8" y="231.7" width="61.2" height="6.6"/>
<rect class="bB" x="522" y="246.7" width="229" height="6.6"/>
<rect class="bG" x="767" y="201.7" width="106.5" height="6.6"/><rect class="bY" x="767" y="231.7" width="106.5" height="6.6"/><rect class="bR" x="889.5" y="216.7" width="106.5" height="6.6"/><rect class="bB" x="889.5" y="246.7" width="106.5" height="6.6"/>
<use href="#sY" x="32"/><use href="#sB" x="32"/><use href="#sG" x="93.3"/><use href="#sR" x="93.3"/><use href="#sY" x="93.3"/><use href="#sG" x="215.8"/><use href="#sR" x="215.8"/><use href="#sY" x="215.8"/><use href="#sG" x="338.3"/><use href="#sR" x="338.3"/><use href="#sY" x="338.3"/>
<use href="#nG" x="399.5"/><use href="#nG" x="430.1"/><use href="#nG" x="460.8"/><use href="#nG" x="491.4"/><use href="#nB" x="522"/><use href="#nG" x="767"/><use href="#nY" x="767"/><use href="#nR" x="889.5"/><use href="#nB" x="889.5"/>
</g>

<g id="row17" transform="translate(0,2256)">
<use href="#grid"/>
<use href="#tq" x="32"/><use href="#tq" x="277"/><use href="#tq" x="522"/><use href="#tq" x="767"/>
<text class="tp" y="185"><tspan x="37">=136</tspan><tspan x="282">=137</tspan><tspan x="527">=138</tspan><tspan x="772">=138</tspan></text>
<text class="mn" y="197.5"><tspan x="32.5">65</tspan><tspan x="277.5">66</tspan><tspan x="522.5">67</tspan><tspan x="767.5">68</tspan></text>
<text class="la" y="281.5"><tspan x="275.5">192</tspan><tspan x="520.5">192</tspan><tspan x="765.5">200</tspan><tspan x="1010.5">184</tspan></text>
<text class="lb" y="294.5"><tspan x="275.5">62202</tspan><tspan x="520.5">62970</tspan><tspan x="765.5">63770</tspan><tspan x="1010.5">64506</tspan></text>
<text class="lc" y="308"><tspan x="275.5">0.00%</tspan><tspan x="520.5">0.00%</tspan><tspan x="765.5">0.00%</tspan><tspan x="1010.5">0.00%</tspan></text>
<rect class="bG" x="93.3" y="201.7" width="106.7" height="6.6"/><rect class="bY" x="93.3" y="231.7" width="106.7" height="6.6"/>
<rect class="bY" x="399.5" y="231.7" width="105.8" height="6.6"/><rect class="bB" x="399.5" y="246.7" width="105.8" height="6.6"/>
<rect class="bG" x="767" y="201.7" width="106.5" height="6.6"/><rect class="bY" x="767" y="231.7" width="106.5" height="6.6"/><rect class="bR" x="889.5" y="216.7" width="106.5" height="6.6"/><rect class="bB" x="889.5" y="246.7" width="106.5" height="6.6"/>
<use href="#nY" x="32"/><use href="#nB" x="32"/><use href="#nG" x="93.3"/><use href="#nY" x="93.3"/><use href="#nG" x="215.8"/><use href="#nY" x="215.8"/><use href="#nB" x="277"/><use href="#nO" x="277"/><use href="#nY" x="338.3"/><use href="#nO" x="338.3"/><use href="#nY" x="399.5"/><use href="#nB" x="399.5"/><use href="#nR" x="522"/><use href="#nB" x="522"/><use href="#nR" x="583.3"/><use href="#nY" x="583.3"/><use href="#nG" x="644.5"/><use href="#nR" x="644.5"/><use href="#nR" x="705.8"/><use href="#nY" x="705.8"/><use href="#nG" x="767"/><use href="#nY" x="767"/><use href="#nR" x="889.5"/><use href="#nB" x="889.5"/>
</g>

<g id="row18" transform="translate(0,2397)">
<use href="#grid"/>
<rect class="gz" x="32" y="204.2" width="184" height="62.6"/>
<use href="#tq" x="32"/><use href="#tq" x="277"/><use href="#tq" x="522"/><use href="#tq" x="767"/>
<text class="tp" y="185"><tspan x="37">=138</tspan><tspan x="282">=141</tspan><tspan x="527">=134</tspan><tspan x="772">=137</tspan></text>
<text class="mn" y="197.5"><tspan x="32.5">69</tspan><tspan x="277.5">70</tspan><tspan x="522.5">71</tspan><tspan x="767.5">72</tspan></text>
<text class="la" y="281.5"><tspan x="275.5">192</tspan><tspan x="520.5">140</tspan><tspan x="765.5">140</tspan><tspan x="1010.5">254</tspan></text>
<text class="lb" y="294.5"><tspan x="275.5">65274</tspan><tspan x="520.5">65834</tspan><tspan x="765.5">66394</tspan><tspan x="1010.5">67410</tspan></text>
<text class="lc" y="308"><tspan x="275.5">30.95%</tspan><tspan x="520.5">30.95%</tspan><tspan x="765.5">30.95%</tspan><tspan x="1010.5">30.95%</tspan></text>
<rect class="bG" x="93.3" y="201.7" width="106.7" height="6.6"/><rect class="hY" x="93.3" y="231.7" width="106.7" height="6.6"/>
<rect class="bR" x="277" y="216.7" width="228.3" height="6.6"/><rect class="bO" x="277" y="262.2" width="228.3" height="6.6"/>
<rect class="bG" x="522" y="201.7" width="229" height="6.6"/><rect class="bB" x="522" y="246.7" width="229" height="6.6"/>
<rect class="bR" x="858.9" y="216.7" width="137.1" height="6.6"/><rect class="bY" x="858.9" y="231.7" width="137.1" height="6.6"/>
<use href="#tY" x="32"/><use href="#tB" x="32"/><use href="#tG" x="93.3"/><use href="#tY" x="93.3"/><use href="#tG" x="215.8"/><use href="#tY" x="215.8"/>
<use href="#nR" x="277"/><use href="#nO" x="277"/><use href="#nG" x="522"/><use href="#nB" x="522"/><use href="#nR" x="767"/><use href="#nY" x="767"/><use href="#nG" x="797.6"/><use href="#nY" x="797.6"/><use href="#nG" x="828.3"/><use href="#nR" x="828.3"/><use href="#nR" x="858.9"/><use href="#nY" x="858.9"/>
</g>

<g id="row19" transform="translate(0,2538)">
<use href="#grid"/>
<use href="#tq" x="32"/><use href="#tq" x="277"/><use href="#tq" x="522"/><use href="#tq" x="767"/>
<text class="tp" y="185"><tspan x="37">=137</tspan><tspan x="282">=136</tspan><tspan x="527">=137</tspan><tspan x="772">=138</tspan></text>
<text class="mn" y="197.5"><tspan x="32.5">73</tspan><tspan x="277.5">74</tspan><tspan x="522.5">75</tspan><tspan x="767.5">76</tspan></text>
<text class="la" y="281.5"><tspan x="275.5">254</tspan><tspan x="520.5">254</tspan><tspan x="765.5">254</tspan><tspan x="1010.5">254</tspan></text>
<text class="lb" y="294.5"><tspan x="275.5">68426</tspan><tspan x="520.5">69442</tspan><tspan x="765.5">70458</tspan><tspan x="1010.5">71474</tspan></text>
<text class="lc" y="308"><tspan x="275.5">30.95%</tspan><tspan x="520.5">30.95%</tspan><tspan x="765.5">30.95%</tspan><tspan x="1010.5">30.95%</tspan></text>
<rect class="bR" x="123.9" y="216.7" width="137.1" height="6.6"/><rect class="bB" x="123.9" y="246.7" width="137.1" height="6.6"/>
<rect class="bY" x="368.9" y="231.7" width="136.4" height="6.6"/><rect class="bB" x="368.9" y="246.7" width="136.4" height="6.6"/>
<rect class="bR" x="613.9" y="216.7" width="137.1" height="6.6"/><rect class="bO" x="613.9" y="262.2" width="137.1" height="6.6"/>
<rect class="bR" x="858.9" y="216.7" width="137.1" height="6.6"/><rect class="bY" x="858.9" y="231.7" width="137.1" height="6.6"/>
<use href="#nB" x="32"/><use href="#nO" x="32"/><use href="#nY" x="62.6"/><use href="#nO" x="62.6"/><use href="#nY" x="93.3"/><use href="#nB" x="93.3"/><use href="#nR" x="123.9"/><use href="#nB" x="123.9"/><use href="#nY" x="277"/><use href="#nB" x="277"/><use href="#nG" x="307.6"/><use href="#nY" x="307.6"/><use href="#nG" x="338.3"/><use href="#nR" x="338.3"/><use href="#nY" x="368.9"/><use href="#nB" x="368.9"/><use href="#nB" x="522"/><use href="#nO" x="522"/><use href="#nY" x="552.6"/><use href="#nO" x="552.6"/><use href="#nY" x="583.3"/><use href="#nB" x="583.3"/><use href="#nR" x="613.9"/><use href="#nO" x="613.9"/><use href="#nR" x="767"/><use href="#nY" x="767"/><use href="#nG" x="797.6"/><use href="#nY" x="797.6"/><use href="#nG" x="828.3"/><use href="#nR" x="828.3"/><use href="#nR" x="858.9"/><use href="#nY" x="858.9"/>
</g>

<g id="row20" transform="translate(0,2679)">
<rect class="yb" x="32" y="195" width="229" height="81.5"/>
<rect class="bb" x="767" y="195" width="245" height="81.5"/>
<use href="#grid"/>
<rect class="gz" x="32" y="204.2" width="229" height="62.6"/>
<use href="#tq" x="32"/><use href="#tq" x="277"/><use href="#tq" x="522"/><use href="#tq" x="767"/>
<text class="tp" y="185"><tspan x="37">=137</tspan><tspan x="282">=137</tspan><tspan x="527">=139</tspan><tspan x="772">=136</tspan></text>
<text class="mn" y="197.5"><tspan x="32.5">77</tspan><tspan x="277.5">78</tspan><tspan x="522.5">79</tspan><tspan x="767.5">80</tspan></text>
<text class="la" y="281.5"><tspan x="275.5">254</tspan><tspan x="520.5">254</tspan><tspan x="765.5">350</tspan><tspan x="1010.5">200</tspan></text>
<text class="lb" y="294.5"><tspan x="275.5">72490</tspan><tspan x="520.5">73506</tspan><tspan x="765.5">74906</tspan><tspan x="1010.5">75706</tspan></text>
<text class="lc" y="308"><tspan x="275.5">63.60%</tspan><tspan x="520.5">63.60%</tspan><tspan x="765.5">63.60%</tspan><tspan x="1010.5">63.60%</tspan></text>
<rect class="hR" x="123.9" y="216.7" width="137.1" height="6.6"/><rect class="hB" x="123.9" y="246.7" width="137.1" height="6.6"/>
<rect class="bR" x="368.9" y="216.7" width="136.4" height="6.6"/><rect class="bB" x="368.9" y="246.7" width="136.4" height="6.6"/>
<use href="#tB" x="32"/><use href="#tO" x="32"/><use href="#tY" x="62.6"/><use href="#tO" x="62.6"/><use href="#tY" x="93.3"/><use href="#tB" x="93.3"/><use href="#tR" x="123.9"/><use href="#tB" x="123.9"/>
<use href="#nY" x="277"/><use href="#nB" x="277"/><use href="#nG" x="307.6"/><use href="#nY" x="307.6"/><use href="#nG" x="338.3"/><use href="#nR" x="338.3"/><use href="#nR" x="368.9"/><use href="#nB" x="368.9"/><use href="#nB" x="522"/><use href="#nO" x="522"/><use href="#nY" x="552.6"/><use href="#nO" x="552.6"/><use href="#nY" x="583.3"/><use href="#nB" x="583.3"/><use href="#nR" x="613.9"/><use href="#nB" x="613.9"/><use href="#nY" x="644.5"/><use href="#nO" x="644.5"/><use href="#nB" x="675.1"/><use href="#nO" x="675.1"/><use href="#nY" x="705.8"/><use href="#nO" x="705.8"/>
<use href="#nG" x="767"/><use href="#nR" x="828.3"/><use href="#nY" x="843.6"/><use href="#nB" x="889.5"/><use href="#nY" x="920.1"/><use href="#nR" x="950.8"/><use href="#nB" x="981.4"/><use href="#nO" x="996.7"/>
</g>

<g id="row21" transform="translate(0,2820)">
<rect class="bb" x="32" y="195" width="980" height="81.5"/>
<use href="#grid"/>
<use href="#tq" x="32"/><use href="#tq" x="277"/><use href="#tq" x="522"/><use href="#tq" x="767"/>
<text class="tp" y="185"><tspan x="37">=138</tspan><tspan x="282">=137</tspan><tspan x="527">=136</tspan><tspan x="772">=136</tspan></text>
<text class="mn" y="197.5"><tspan x="32.5">81</tspan><tspan x="277.5">82</tspan><tspan x="522.5">83</tspan><tspan x="767.5">84</tspan></text>
<text class="la" y="281.5"><tspan x="275.5">300</tspan><tspan x="520.5">300</tspan><tspan x="765.5">375</tspan><tspan x="1010.5">181</tspan></text>
<text class="lb" y="294.5"><tspan x="275.5">76906</tspan><tspan x="520.5">78106</tspan><tspan x="765.5">79606</tspan><tspan x="1010.5">80330</tspan></text>
<text class="lc" y="308"><tspan x="275.5">63.60%</tspan><tspan x="520.5">63.60%</tspan><tspan x="765.5">63.60%</tspan><tspan x="1010.5">63.60%</tspan></text>
<rect class="bB" x="981.4" y="246.7" width="30.6" height="6.6"/>
<use href="#nG" x="185.1"/><use href="#nG" x="261.7"/><use href="#nG" x="338.3"/><use href="#nG" x="690.4"/><use href="#nG" x="950.8"/>
<use href="#nR" x="169.8"/><use href="#nR" x="246.4"/><use href="#nR" x="277"/><use href="#nR" x="353.6"/><use href="#nR" x="384.2"/><use href="#nR" x="414.8"/><use href="#nR" x="552.6"/><use href="#nR" x="629.2"/><use href="#nR" x="675.1"/><use href="#nR" x="767"/><use href="#nR" x="920.1"/>
<use href="#nY" x="123.9"/><use href="#nY" x="154.5"/><use href="#nY" x="231.1"/><use href="#nY" x="368.9"/><use href="#nY" x="460.8"/><use href="#nY" x="506.7"/><use href="#nY" x="537.3"/><use href="#nY" x="567.9"/><use href="#nY" x="613.9"/><use href="#nY" x="659.8"/><use href="#nY" x="751.7"/><use href="#nY" x="889.5"/>
<use href="#nB" x="62.6"/><use href="#nB" x="108.6"/><use href="#nB" x="139.2"/><use href="#nB" x="215.8"/><use href="#nB" x="399.5"/><use href="#nB" x="491.4"/><use href="#nB" x="522"/><use href="#nB" x="598.6"/><use href="#nB" x="644.5"/><use href="#nB" x="736.4"/><use href="#nB" x="828.3"/><use href="#nB" x="981.4"/>
<use href="#nO" x="93.3"/><use href="#nO" x="430.1"/><use href="#nO" x="476.1"/><use href="#nO" x="583.3"/><use href="#nO" x="705.8"/><use href="#nO" x="828.3"/>
</g>

<g id="row22" transform="translate(0,2961)">
<rect class="bb" x="32" y="195" width="980" height="81.5"/>
<use href="#grid"/>
<rect class="gz" x="522" y="204.2" width="229" height="62.6"/>
<rect class="pz" x="328.7" y="204.2" width="683.3" height="62.6"/>
<rect class="kz" x="327" y="204.2" width="3.5" height="62.6"/>
<use href="#tq" x="32"/><use href="#tq" x="277"/><use href="#tq" x="522"/><use href="#tq" x="767"/>
<text class="tp" y="185"><tspan x="37">=139</tspan><tspan x="282">=135</tspan><tspan x="527">=138</tspan><tspan x="772">=138</tspan></text>
<text class="mn" y="197.5"><tspan x="32.5">85</tspan><tspan x="277.5">86</tspan><tspan x="522.5">87</tspan><tspan x="767.5">88</tspan></text>
<text class="la" y="281.5"><tspan x="275.5">221</tspan><tspan x="520.5">450</tspan><tspan x="765.5">168</tspan><tspan x="1010.5">600</tspan></text>
<text class="lb" y="294.5"><tspan x="275.5">81214</tspan><tspan x="520.5">84314</tspan><tspan x="765.5">85658</tspan><tspan x="1010.5">90458</tspan></text>
<text class="lc" y="308"><tspan x="275.5">63.60%</tspan><tspan x="520.5">53.84%</tspan><tspan x="765.5">71.44%</tspan><tspan x="1010.5">58.94%</tspan></text>
<rect class="bB" x="32" y="246.7" width="14.7" height="6.6"/><rect class="bY" x="93.3" y="231.7" width="44.7" height="6.6"/><rect class="bR" x="215.8" y="216.7" width="45" height="6.6"/><rect class="qO" x="614" y="262.2" width="91.3" height="6.6"/>
<use href="#nY" x="62.6"/><use href="#nR" x="77.9"/><use href="#nY" x="93.3"/><use href="#nB" x="154.5"/><use href="#nY" x="154.5"/><use href="#nR" x="169.8"/><use href="#nG" x="200.4"/><use href="#nR" x="215.8"/><use href="#nG" x="277"/><use href="#nR" x="287.3"/><use href="#nY" x="296.7"/><use href="#nR" x="307.3"/><use href="#nY" x="318"/><use href="#nB" x="326.7"/>
<use href="#sY" x="338"/><use href="#sB" x="348"/><use href="#sO" x="357.3"/><use href="#sR" x="368.7"/><use href="#sY" x="378.7"/><use href="#sB" x="388"/><use href="#sO" x="399.3"/><use href="#sY" x="445.3"/><use href="#sB" x="460.7"/><use href="#sY" x="476"/><use href="#sR" x="491.3"/><use href="#sG" x="506.7"/>
<use href="#tR" x="522"/><use href="#tY" x="552.7"/><use href="#tB" x="583.3"/><use href="#tO" x="614"/><use href="#tR" x="720.7"/><use href="#tY" x="751.3"/>
<use href="#sO" x="766.7"/><use href="#sB" x="776.7"/><use href="#sY" x="786"/><use href="#sO" x="797.3"/><use href="#sB" x="807.3"/><use href="#sY" x="816.7"/><use href="#sO" x="828"/><use href="#sB" x="838"/><use href="#sY" x="847.3"/><use href="#sO" x="858.7"/><use href="#sB" x="868.7"/><use href="#sY" x="878"/><use href="#sB" x="889.3"/><use href="#sY" x="898.7"/><use href="#sR" x="908.7"/><use href="#sB" x="920"/><use href="#sY" x="930"/><use href="#sR" x="939.3"/><use href="#sB" x="950.7"/><use href="#sY" x="960.7"/><use href="#sR" x="970"/><use href="#sB" x="981.3"/><use href="#sY" x="991.3"/><use href="#sR" x="1000.7"/>
</g>

<g id="row23" transform="translate(0,3102)">
<rect class="bb" x="32" y="195" width="980" height="81.5"/>
<use href="#grid"/>
<rect class="pz" x="32" y="204.2" width="980" height="62.6"/>
<use href="#tq" x="32"/><use href="#tq" x="277"/><use href="#tq" x="522"/><use href="#tq" x="767"/>
<text class="tp" y="185"><tspan x="37">=136</tspan><tspan x="282">=137</tspan><tspan x="527">=137</tspan><tspan x="772">=138</tspan></text>
<text class="mn" y="197.5"><tspan x="32.5">89</tspan><tspan x="277.5">90</tspan><tspan x="522.5">91</tspan><tspan x="767.5">92</tspan></text>
<text class="la" y="281.5"><tspan x="275.5">600</tspan><tspan x="520.5">300</tspan><tspan x="765.5">300</tspan><tspan x="1010.5">125</tspan></text>
<text class="lb" y="294.5"><tspan x="275.5">95258</tspan><tspan x="520.5">97658</tspan><tspan x="765.5">100058</tspan><tspan x="1010.5">101058</tspan></text>
<text class="lc" y="308"><tspan x="275.5">46.44%</tspan><tspan x="520.5">33.94%</tspan><tspan x="765.5">21.44%</tspan><tspan x="1010.5">8.94%</tspan></text>
<use href="#sG" x="51.3"/><use href="#sG" x="82"/><use href="#sG" x="112.7"/><use href="#sG" x="143.3"/><use href="#sG" x="174"/><use href="#sG" x="204.7"/><use href="#sG" x="598.7"/><use href="#sG" x="828"/><use href="#sG" x="920"/>
<use href="#sR" x="42"/><use href="#sR" x="72.7"/><use href="#sR" x="103.3"/><use href="#sR" x="134"/><use href="#sR" x="164.7"/><use href="#sR" x="195.3"/><use href="#sR" x="215.3"/><use href="#sR" x="368.7"/><use href="#sR" x="583.3"/><use href="#sR" x="736.7"/><use href="#sR" x="766.7"/><use href="#sR" x="950.7"/>
<use href="#sY" x="154.7"/><use href="#sY" x="185.3"/><use href="#sY" x="226"/><use href="#sY" x="246"/><use href="#sY" x="276.7"/><use href="#sY" x="353.3"/><use href="#sY" x="399.3"/><use href="#sY" x="476"/><use href="#sY" x="506.7"/><use href="#sY" x="552.7"/><use href="#sY" x="736.7"/><use href="#sY" x="858.7"/>
<use href="#sB" x="32"/><use href="#sB" x="62.7"/><use href="#sB" x="93.3"/><use href="#sB" x="124"/><use href="#sB" x="234.7"/><use href="#sB" x="256.7"/><use href="#sB" x="276.7"/><use href="#sB" x="338"/><use href="#sB" x="430"/><use href="#sB" x="460.7"/><use href="#sB" x="476"/><use href="#sB" x="522"/><use href="#sB" x="614"/><use href="#sB" x="644.7"/><use href="#sB" x="675.3"/>
<use href="#sO" x="265.3"/><use href="#sO" x="460.7"/><use href="#sO" x="629.3"/><use href="#sO" x="660"/><use href="#sO" x="690.7"/>
</g>

<g id="row24" transform="translate(0,3243)">
<rect class="bb" x="32" y="195" width="735" height="81.5"/>
<use href="#grid"/>
<rect class="pz" x="32" y="204.2" width="663.3" height="62.6"/>
<rect class="kz" x="695.3" y="204.2" width="10.7" height="62.6"/>
<use href="#tq" x="32"/><use href="#tq" x="277"/><use href="#tq" x="522"/><use href="#tq" x="767"/>
<text class="tp" y="185"><tspan x="37">=136</tspan><tspan x="282">=138</tspan><tspan x="527">=135</tspan><tspan x="772">=138</tspan></text>
<text class="mn" y="197.5"><tspan x="32.5">93</tspan><tspan x="277.5">94</tspan><tspan x="522.5">95</tspan><tspan x="767.5">96</tspan></text>
<text class="la" y="281.5"><tspan x="275.5">225</tspan><tspan x="520.5">400</tspan><tspan x="765.5">468</tspan><tspan x="1010.5">112</tspan></text>
<text class="lb" y="294.5"><tspan x="275.5">102858</tspan><tspan x="520.5">106058</tspan><tspan x="765.5">109730</tspan><tspan x="1010.5">129478</tspan></text>
<text class="lc" y="308"><tspan x="275.5">0.00%</tspan><tspan x="520.5">0.00%</tspan><tspan x="765.5">0.00%</tspan><tspan x="1010.5">0.00%</tspan></text>
<rect class="bB" x="706" y="246.7" width="45.3" height="6.6"/><rect class="bO" x="706" y="262.2" width="45.3" height="6.6"/><rect class="bB" x="950.7" y="246.7" width="61.3" height="6.6"/>
<use href="#sG" x="32"/><use href="#sG" x="124"/><use href="#sG" x="326.7"/><use href="#sG" x="445.3"/><use href="#sG" x="522"/><use href="#nG" x="889.3"/>
<use href="#sR" x="246"/><use href="#sR" x="317.3"/><use href="#sR" x="384"/><use href="#sR" x="430"/><use href="#sR" x="506.7"/><use href="#sR" x="562.7"/><use href="#sR" x="602.7"/><use href="#nR" x="828"/>
<use href="#sY" x="307.3"/><use href="#sY" x="368.7"/><use href="#sY" x="414.7"/><use href="#sY" x="491.3"/><use href="#sY" x="537.3"/><use href="#sY" x="602.7"/><use href="#sY" x="624"/><use href="#sY" x="660"/><use href="#sY" x="690.7"/><use href="#nY" x="766.7"/>
<use href="#sB" x="62.7"/><use href="#sB" x="170"/><use href="#sB" x="200"/><use href="#sB" x="276.7"/><use href="#sB" x="353.3"/><use href="#sB" x="399.3"/><use href="#sB" x="476"/><use href="#sB" x="583.3"/><use href="#sB" x="624"/><use href="#sB" x="644.7"/><use href="#sB" x="660"/><use href="#sB" x="675.3"/><use href="#sB" x="690.7"/><use href="#nB" x="706"/><use href="#nB" x="950.7"/>
<use href="#sO" x="154.7"/><use href="#sO" x="185.3"/><use href="#sO" x="215.3"/><use href="#sO" x="338"/><use href="#sO" x="460.7"/><use href="#sO" x="644.7"/><use href="#sO" x="675.3"/><use href="#nO" x="706"/>
</g>

<g id="row25" transform="translate(0,3384)">
<rect class="yb" x="277" y="195" width="474" height="81.5"/>
<use href="#grid"/>
<rect class="gz" x="277" y="204.2" width="474" height="62.6"/>
<use href="#tq" x="32"/><use href="#tq" x="277"/><use href="#tq" x="522"/><use href="#tq" x="767"/>
<text class="tp" y="185"><tspan x="37">=137</tspan><tspan x="282">=137</tspan><tspan x="527">=139</tspan><tspan x="772">=134</tspan></text>
<text class="mn" y="197.5"><tspan x="32.5">97</tspan><tspan x="277.5">98</tspan><tspan x="522.5">99</tspan><tspan x="767.5">100</tspan></text>
<text class="la" y="281.5"><tspan x="275.5">45</tspan><tspan x="520.5">112</tspan><tspan x="765.5">45</tspan><tspan x="1010.5">112</tspan></text>
<text class="lb" y="294.5"><tspan x="275.5">129658</tspan><tspan x="520.5">130106</tspan><tspan x="765.5">130286</tspan><tspan x="1010.5">130734</tspan></text>
<text class="lc" y="308"><tspan x="275.5">0.00%</tspan><tspan x="520.5">28.40%</tspan><tspan x="765.5">41.15%</tspan><tspan x="1010.5">41.15%</tspan></text>
<rect class="bB" x="32" y="246.7" width="229" height="6.6"/><rect class="hR" x="460.8" y="216.7" width="290.2" height="6.6"/><rect class="bR" x="950.8" y="216.7" width="61.2" height="6.6"/>
<use href="#tO" x="277"/><use href="#tB" x="338.3"/><use href="#tY" x="399.5"/><use href="#tR" x="460.8"/>
<use href="#nB" x="767"/><use href="#nY" x="828.3"/><use href="#nG" x="889.5"/><use href="#nR" x="950.8"/>
</g>

<g id="row26" transform="translate(0,3525)">
<use href="#grid"/>
<rect class="pz" x="277" y="204.2" width="735" height="62.6"/>
<rect class="kz" x="277" y="204.2" width="10" height="62.6"/>
<use href="#tq" x="32"/><use href="#tq" x="277"/><use href="#tq" x="522"/><use href="#tq" x="767"/>
<text class="tp" y="185"><tspan x="37">=138</tspan><tspan x="282">=136</tspan><tspan x="527">=137</tspan><tspan x="772">=137</tspan></text>
<text class="mn" y="197.5"><tspan x="32.5">101</tspan><tspan x="277.5">102</tspan><tspan x="522.5">103</tspan><tspan x="767.5">104</tspan></text>
<text class="la" y="281.5"><tspan x="275.5">45</tspan><tspan x="520.5">112</tspan><tspan x="765.5">45</tspan><tspan x="1010.5">112</tspan></text>
<text class="lb" y="294.5"><tspan x="275.5">130914</tspan><tspan x="520.5">131810</tspan><tspan x="765.5">132170</tspan><tspan x="1010.5">133066</tspan></text>
<text class="lc" y="308"><tspan x="275.5">41.15%</tspan><tspan x="520.5">29.15%</tspan><tspan x="765.5">16.65%</tspan><tspan x="1010.5">4.15%</tspan></text>
<rect class="bR" x="32" y="216.7" width="229" height="6.6"/><rect class="pO" x="460.8" y="262.2" width="290.2" height="6.6"/><rect class="pB" x="950.8" y="246.7" width="61.2" height="6.6"/>
<use href="#nO" x="277"/><use href="#sB" x="338.3"/><use href="#sY" x="399.5"/><use href="#sO" x="460.8"/><use href="#sY" x="767"/><use href="#sR" x="828.3"/><use href="#sG" x="889.5"/><use href="#sB" x="950.8"/>
</g>

<g id="row27" transform="translate(0,3666)">
<use href="#grid"/>
<rect class="gz" x="950.8" y="204.2" width="61.2" height="62.6"/>
<rect class="pz" x="32" y="204.2" width="570" height="62.6"/>
<use href="#tq" x="32"/><use href="#tq" x="277"/><use href="#tq" x="522"/><use href="#tq" x="767"/>
<text class="tp" y="185"><tspan x="37">=137</tspan><tspan x="282">=138</tspan><tspan x="527">=134</tspan><tspan x="772">=137</tspan></text>
<text class="mn" y="197.5"><tspan x="32.5">105</tspan><tspan x="277.5">106</tspan><tspan x="522.5">107</tspan><tspan x="767.5">108</tspan></text>
<text class="la" y="281.5"><tspan x="275.5">45</tspan><tspan x="520.5">112</tspan><tspan x="765.5">45</tspan><tspan x="1010.5">112</tspan></text>
<text class="lb" y="294.5"><tspan x="275.5">133426</tspan><tspan x="520.5">134322</tspan><tspan x="765.5">134566</tspan><tspan x="1010.5">135014</tspan></text>
<text class="lc" y="308"><tspan x="275.5">0.00%</tspan><tspan x="520.5">0.00%</tspan><tspan x="765.5">0.00%</tspan><tspan x="1010.5">28.40%</tspan></text>
<rect class="pB" x="32" y="246.7" width="229" height="6.6"/><rect class="pR" x="460.8" y="216.7" width="141.2" height="6.6"/><rect class="bR" x="602" y="216.7" width="149" height="6.6"/><rect class="hR" x="950.8" y="216.7" width="61.2" height="6.6"/>
<use href="#sO" x="277"/><use href="#sB" x="338.3"/><use href="#sY" x="399.5"/><use href="#sR" x="460.8"/><use href="#nB" x="767"/><use href="#nY" x="828.3"/><use href="#nG" x="889.5"/><use href="#tR" x="950.8"/>
</g>

<g id="row28" transform="translate(0,3807)">
<use href="#grid"/>
<rect class="gz" x="32" y="204.2" width="229" height="62.6"/>
<use href="#tq" x="32"/><use href="#tq" x="277"/><use href="#tq" x="522"/><use href="#tq" x="767"/>
<text class="tp" y="185"><tspan x="37">=138</tspan><tspan x="282">=140</tspan><tspan x="527">=139</tspan><tspan x="772">=136</tspan></text>
<text class="mn" y="197.5"><tspan x="32.5">109</tspan><tspan x="277.5">110</tspan><tspan x="522.5">111</tspan><tspan x="767.5">112</tspan></text>
<text class="la" y="281.5"><tspan x="275.5">45</tspan><tspan x="520.5">112</tspan><tspan x="765.5">45</tspan><tspan x="1010.5">112</tspan></text>
<text class="lb" y="294.5"><tspan x="275.5">135194</tspan><tspan x="520.5">135642</tspan><tspan x="765.5">135822</tspan><tspan x="1010.5">136270</tspan></text>
<text class="lc" y="308"><tspan x="275.5">41.15%</tspan><tspan x="520.5">41.15%</tspan><tspan x="765.5">41.15%</tspan><tspan x="1010.5">41.15%</tspan></text>
<rect class="hR" x="32" y="216.7" width="229" height="6.6"/><rect class="bO" x="460.8" y="262.2" width="290.2" height="6.6"/><rect class="bB" x="950.8" y="246.7" width="61.2" height="6.6"/>
<use href="#nO" x="277"/><use href="#nB" x="338.3"/><use href="#nY" x="399.5"/><use href="#nO" x="460.8"/><use href="#nY" x="767"/><use href="#nR" x="828.3"/><use href="#nG" x="889.5"/><use href="#nB" x="950.8"/>
</g>

<g id="row29" transform="translate(0,3948)">
<use href="#grid"/>
<use href="#tq" x="32"/><use href="#tq" x="277"/><use href="#tq" x="522"/><use href="#tq" x="767"/>
<text class="tp" y="185"><tspan x="37">=136</tspan><tspan x="282">=137</tspan><tspan x="527">=137</tspan><tspan x="772">=139</tspan></text>
<text class="mn" y="197.5"><tspan x="32.5">113</tspan><tspan x="277.5">114</tspan><tspan x="522.5">115</tspan><tspan x="767.5">116</tspan></text>
<text class="la" y="281.5"><tspan x="275.5">45</tspan><tspan x="520.5">112</tspan><tspan x="765.5">45</tspan><tspan x="1010.5">112</tspan></text>
<text class="lb" y="294.5"><tspan x="275.5">136450</tspan><tspan x="520.5">136898</tspan><tspan x="765.5">137078</tspan><tspan x="1010.5">137526</tspan></text>
<text class="lc" y="308"><tspan x="275.5">41.15%</tspan><tspan x="520.5">41.15%</tspan><tspan x="765.5">41.15%</tspan><tspan x="1010.5">41.15%</tspan></text>
<rect class="bB" x="32" y="246.7" width="229" height="6.6"/><rect class="bR" x="460.8" y="216.7" width="290.2" height="6.6"/><rect class="bR" x="950.8" y="216.7" width="61.2" height="6.6"/>
<use href="#nO" x="277"/><use href="#nB" x="338.3"/><use href="#nY" x="399.5"/><use href="#nR" x="460.8"/><use href="#nB" x="767"/><use href="#nY" x="828.3"/><use href="#nG" x="889.5"/><use href="#nR" x="950.8"/>
</g>

<g id="row30" transform="translate(0,4089)">
<rect class="yb" x="277" y="195" width="474" height="81.5"/>
<use href="#grid"/>
<rect class="gz" x="277" y="204.2" width="474" height="62.6"/>
<rect class="pz" x="583.3" y="204.2" width="428.7" height="62.6"/>
<use href="#tq" x="32"/><use href="#tq" x="277"/><use href="#tq" x="522"/><use href="#tq" x="767"/>
<text class="tp" y="185"><tspan x="37">=135</tspan><tspan x="282">=139</tspan><tspan x="527">=135</tspan><tspan x="772">=137</tspan></text>
<text class="mn" y="197.5"><tspan x="32.5">117</tspan><tspan x="277.5">118</tspan><tspan x="522.5">119</tspan><tspan x="767.5">120</tspan></text>
<text class="la" y="281.5"><tspan x="275.5">45</tspan><tspan x="520.5">112</tspan><tspan x="765.5">45</tspan><tspan x="1010.5">254</tspan></text>
<text class="lb" y="294.5"><tspan x="275.5">137706</tspan><tspan x="520.5">138154</tspan><tspan x="765.5">138470</tspan><tspan x="1010.5">140502</tspan></text>
<text class="lc" y="308"><tspan x="275.5">41.15%</tspan><tspan x="520.5">69.55%</tspan><tspan x="765.5">72.91%</tspan><tspan x="1010.5">60.41%</tspan></text>
<rect class="bR" x="32" y="216.7" width="229" height="6.6"/><rect class="hO" x="460.8" y="262.2" width="122.5" height="6.6"/><rect class="qO" x="583.3" y="262.2" width="167.7" height="6.6"/><rect class="pR" x="858.9" y="216.7" width="137.1" height="6.6"/><rect class="pY" x="858.9" y="231.7" width="137.1" height="6.6"/>
<use href="#tO" x="277"/><use href="#tB" x="338.3"/><use href="#tY" x="399.5"/><use href="#tO" x="460.8"/>
<use href="#sR" x="767"/><use href="#sY" x="767"/><use href="#sG" x="797.6"/><use href="#sY" x="797.6"/><use href="#sG" x="828.3"/><use href="#sR" x="828.3"/><use href="#sR" x="858.9"/><use href="#sY" x="858.9"/>
</g>

<g id="row31" transform="translate(0,4230)">
<use href="#grid"/>
<rect class="pz" x="32" y="204.2" width="980" height="62.6"/>
<use href="#tq" x="32"/><use href="#tq" x="277"/><use href="#tq" x="522"/><use href="#tq" x="767"/>
<text class="tp" y="185"><tspan x="37">=138</tspan><tspan x="282">=136</tspan><tspan x="527">=137</tspan><tspan x="772">=138</tspan></text>
<text class="mn" y="197.5"><tspan x="32.5">121</tspan><tspan x="277.5">122</tspan><tspan x="522.5">123</tspan><tspan x="767.5">124</tspan></text>
<text class="la" y="281.5"><tspan x="275.5">254</tspan><tspan x="520.5">254</tspan><tspan x="765.5">254</tspan><tspan x="1010.5">254</tspan></text>
<text class="lb" y="294.5"><tspan x="275.5">142534</tspan><tspan x="520.5">144566</tspan><tspan x="765.5">146598</tspan><tspan x="1010.5">148630</tspan></text>
<text class="lc" y="308"><tspan x="275.5">47.91%</tspan><tspan x="520.5">35.41%</tspan><tspan x="765.5">22.91%</tspan><tspan x="1010.5">10.41%</tspan></text>
<rect class="pR" x="123.9" y="216.7" width="137.1" height="6.6"/><rect class="pB" x="123.9" y="246.7" width="137.1" height="6.6"/>
<rect class="pR" x="368.9" y="216.7" width="136.4" height="6.6"/><rect class="pB" x="368.9" y="246.7" width="136.4" height="6.6"/>
<rect class="pR" x="613.9" y="216.7" width="137.1" height="6.6"/><rect class="pO" x="613.9" y="262.2" width="137.1" height="6.6"/>
<rect class="pR" x="858.9" y="216.7" width="137.1" height="6.6"/><rect class="pY" x="858.9" y="231.7" width="137.1" height="6.6"/>
<use href="#sB" x="32"/><use href="#sO" x="32"/><use href="#sY" x="62.6"/><use href="#sO" x="62.6"/><use href="#sY" x="93.3"/><use href="#sB" x="93.3"/><use href="#sR" x="123.9"/><use href="#sB" x="123.9"/><use href="#sY" x="277"/><use href="#sB" x="277"/><use href="#sG" x="307.6"/><use href="#sY" x="307.6"/><use href="#sG" x="338.3"/><use href="#sR" x="338.3"/><use href="#sR" x="368.9"/><use href="#sB" x="368.9"/><use href="#sB" x="522"/><use href="#sO" x="522"/><use href="#sY" x="552.6"/><use href="#sO" x="552.6"/><use href="#sY" x="583.3"/><use href="#sB" x="583.3"/><use href="#sR" x="613.9"/><use href="#sO" x="613.9"/><use href="#sR" x="767"/><use href="#sY" x="767"/><use href="#sG" x="797.6"/><use href="#sY" x="797.6"/><use href="#sG" x="828.3"/><use href="#sR" x="828.3"/><use href="#sR" x="858.9"/><use href="#sY" x="858.9"/>
</g>

<g id="row32" transform="translate(0,4371)">
<use href="#grid"/>
<rect class="gz" x="522" y="204.2" width="183.8" height="62.6"/>
<rect class="pz" x="32" y="204.2" width="980" height="62.6"/>
<use href="#tq" x="32"/><use href="#tq" x="277"/><use href="#tq" x="522"/><use href="#tq" x="767"/>
<text class="tp" y="185"><tspan x="37">=138</tspan><tspan x="282">=140</tspan><tspan x="527">=134</tspan><tspan x="772">=138</tspan></text>
<text class="mn" y="197.5"><tspan x="32.5">125</tspan><tspan x="277.5">126</tspan><tspan x="522.5">127</tspan><tspan x="767.5">128</tspan></text>
<text class="la" y="281.5"><tspan x="275.5">254</tspan><tspan x="520.5">254</tspan><tspan x="765.5">350</tspan><tspan x="1010.5">200</tspan></text>
<text class="lb" y="294.5"><tspan x="275.5">150662</tspan><tspan x="520.5">152694</tspan><tspan x="765.5">155494</tspan><tspan x="1010.5">157094</tspan></text>
<text class="lc" y="308"><tspan x="275.5">0.00%</tspan><tspan x="520.5">0.00%</tspan><tspan x="765.5">21.88%</tspan><tspan x="1010.5">9.38%</tspan></text>
<rect class="pR" x="123.9" y="216.7" width="137.1" height="6.6"/><rect class="pB" x="123.9" y="246.7" width="137.1" height="6.6"/>
<rect class="pR" x="368.9" y="216.7" width="136.4" height="6.6"/><rect class="pB" x="368.9" y="246.7" width="136.4" height="6.6"/>
<use href="#sB" x="32"/><use href="#sO" x="32"/><use href="#sY" x="62.6"/><use href="#sO" x="62.6"/><use href="#sY" x="93.3"/><use href="#sB" x="93.3"/><use href="#sR" x="123.9"/><use href="#sB" x="123.9"/><use href="#sY" x="277"/><use href="#sB" x="277"/><use href="#sG" x="307.6"/><use href="#sY" x="307.6"/><use href="#sG" x="338.3"/><use href="#sR" x="338.3"/><use href="#sR" x="368.9"/><use href="#sB" x="368.9"/>
<use href="#tB" x="522"/><use href="#tO" x="522"/><use href="#tY" x="552.6"/><use href="#tO" x="552.6"/><use href="#tY" x="583.3"/><use href="#tB" x="583.3"/><use href="#tR" x="613.9"/><use href="#tB" x="613.9"/><use href="#tY" x="644.5"/><use href="#tO" x="644.5"/><use href="#tB" x="675.1"/><use href="#tO" x="675.1"/><use href="#tY" x="705.8"/><use href="#tO" x="705.8"/>
<use href="#sG" x="767"/><use href="#sG" x="812.9"/><use href="#sG" x="858.9"/><use href="#sG" x="920.1"/><use href="#sR" x="950.8"/><use href="#sY" x="966.1"/><use href="#sB" x="981.4"/><use href="#sO" x="981.4"/>
</g>

<g id="row33" transform="translate(0,4512)">
<use href="#grid"/>
<rect class="pz" x="32" y="204.2" width="204" height="62.6"/>
<rect class="kz" x="236" y="204.2" width="10.7" height="62.6"/>
<use href="#tq" x="32"/><use href="#tq" x="277"/><use href="#tq" x="522"/><use href="#tq" x="767"/>
<text class="tp" y="185"><tspan x="37">=137</tspan><tspan x="282">=139</tspan><tspan x="527">=135</tspan><tspan x="772">=136</tspan></text>
<text class="mn" y="197.5"><tspan x="32.5">129</tspan><tspan x="277.5">130</tspan><tspan x="522.5">131</tspan><tspan x="767.5">132</tspan></text>
<text class="la" y="281.5"><tspan x="275.5">200</tspan><tspan x="520.5">200</tspan><tspan x="765.5">275</tspan><tspan x="1010.5">200</tspan></text>
<text class="lb" y="294.5"><tspan x="275.5">158694</tspan><tspan x="520.5">159494</tspan><tspan x="765.5">160594</tspan><tspan x="1010.5">161394</tspan></text>
<text class="lc" y="308"><tspan x="275.5">0.00%</tspan><tspan x="520.5">0.00%</tspan><tspan x="765.5">0.00%</tspan><tspan x="1010.5">0.00%</tspan></text>
<use href="#sG" x="32"/><use href="#sG" x="78"/><use href="#sG" x="124"/><use href="#sG" x="185.3"/><use href="#sR" x="216"/><use href="#sY" x="231.3"/><use href="#nB" x="246.7"/><use href="#nO" x="246.7"/>
<use href="#nG" x="276.7"/><use href="#nG" x="322.7"/><use href="#nG" x="368.7"/><use href="#nG" x="430"/><use href="#nR" x="460.7"/><use href="#nY" x="476"/><use href="#nB" x="491.3"/><use href="#nO" x="491.3"/>
<use href="#nG" x="522"/><use href="#nG" x="568"/><use href="#nG" x="614"/><use href="#nG" x="752"/><use href="#nG" x="766.7"/><use href="#nG" x="812.7"/><use href="#nG" x="858.7"/><use href="#nG" x="920"/>
<use href="#nR" x="690.7"/><use href="#nR" x="736.7"/><use href="#nR" x="950.7"/><use href="#nY" x="675.3"/><use href="#nY" x="721.3"/><use href="#nY" x="966"/><use href="#nB" x="660"/><use href="#nB" x="706"/><use href="#nB" x="981.3"/><use href="#nO" x="644.7"/><use href="#nO" x="981.3"/>
</g>

<g id="row34" transform="translate(0,4653)">
<use href="#grid"/>
<use href="#tq" x="32"/><use href="#tq" x="277"/><use href="#tq" x="522"/><use href="#tq" x="767"/>
<text class="tp" y="185"><tspan x="37">=137</tspan><tspan x="282">=137</tspan><tspan x="527">=137</tspan><tspan x="772">=134</tspan></text>
<text class="mn" y="197.5"><tspan x="32.5">133</tspan><tspan x="277.5">134</tspan><tspan x="522.5">135</tspan><tspan x="767.5">136</tspan></text>
<text class="la" y="281.5"><tspan x="275.5">200</tspan><tspan x="520.5">200</tspan><tspan x="765.5">275</tspan><tspan x="1010.5">200</tspan></text>
<text class="lb" y="294.5"><tspan x="275.5">162194</tspan><tspan x="520.5">162994</tspan><tspan x="765.5">164094</tspan><tspan x="1010.5">164894</tspan></text>
<text class="lc" y="308"><tspan x="275.5">0.00%</tspan><tspan x="520.5">0.00%</tspan><tspan x="765.5">0.00%</tspan><tspan x="1010.5">0.00%</tspan></text>
<use href="#nG" x="32"/><use href="#nG" x="78"/><use href="#nG" x="124"/><use href="#nG" x="185.3"/><use href="#nR" x="216"/><use href="#nY" x="231.3"/><use href="#nB" x="246.7"/><use href="#nO" x="246.7"/>
<use href="#nG" x="276.7"/><use href="#nG" x="322.7"/><use href="#nG" x="368.7"/><use href="#nG" x="430"/><use href="#nR" x="460.7"/><use href="#nY" x="476"/><use href="#nB" x="491.3"/><use href="#nO" x="491.3"/>
<use href="#nG" x="522"/><use href="#nG" x="568"/><use href="#nG" x="614"/><use href="#nG" x="752"/><use href="#nG" x="766.7"/><use href="#nG" x="812.7"/><use href="#nG" x="858.7"/><use href="#nG" x="920"/>
<use href="#nR" x="690.7"/><use href="#nR" x="736.7"/><use href="#nR" x="950.7"/><use href="#nY" x="675.3"/><use href="#nY" x="721.3"/><use href="#nY" x="966"/><use href="#nB" x="660"/><use href="#nB" x="706"/><use href="#nB" x="981.3"/><use href="#nO" x="644.7"/><use href="#nO" x="981.3"/>
</g>

<g id="row35" transform="translate(0,4794)">
<use href="#grid"/>
<use href="#tq" x="32"/><use href="#tq" x="277"/><use href="#tq" x="522"/><use href="#tq" x="767"/>
<text class="tp" y="185"><tspan x="37">=138</tspan><tspan x="282">=138</tspan><tspan x="527">=138</tspan><tspan x="772">=137</tspan></text>
<text class="mn" y="197.5"><tspan x="32.5">137</tspan><tspan x="277.5">138</tspan><tspan x="522.5">139</tspan><tspan x="767.5">140</tspan></text>
<text class="la" y="281.5"><tspan x="275.5">200</tspan><tspan x="520.5">200</tspan><tspan x="765.5">121</tspan><tspan x="1010.5">300</tspan></text>
<text class="lb" y="294.5"><tspan x="275.5">165694</tspan><tspan x="520.5">166494</tspan><tspan x="765.5">166978</tspan><tspan x="1010.5">168178</tspan></text>
<text class="lc" y="308"><tspan x="275.5">0.00%</tspan><tspan x="520.5">0.00%</tspan><tspan x="765.5">0.00%</tspan><tspan x="1010.5">0.00%</tspan></text>
<rect class="bB" x="644.7" y="246.7" width="106.6" height="6.6"/>
<use href="#nG" x="32"/><use href="#nG" x="78"/><use href="#nG" x="124"/><use href="#nG" x="185.3"/><use href="#nG" x="276.7"/><use href="#nG" x="322.7"/><use href="#nG" x="368.7"/><use href="#nG" x="430"/><use href="#nG" x="522"/><use href="#nG" x="568"/><use href="#nG" x="614"/><use href="#nG" x="797.3"/><use href="#nG" x="858.7"/><use href="#nG" x="920"/><use href="#nG" x="981.3"/>
<use href="#nR" x="216"/><use href="#nR" x="460.7"/><use href="#nR" x="766.7"/><use href="#nR" x="828"/><use href="#nR" x="950.7"/>
<use href="#nY" x="231.3"/><use href="#nY" x="476"/><use href="#nY" x="766.7"/><use href="#nY" x="889.3"/>
<use href="#nB" x="246.7"/><use href="#nB" x="491.3"/><use href="#nB" x="644.7"/><use href="#nB" x="828"/><use href="#nB" x="889.3"/><use href="#nB" x="950.7"/>
<use href="#nO" x="246.7"/><use href="#nO" x="491.3"/>
</g>

<g id="row36" transform="translate(0,4935)">
<use href="#grid"/>
<use href="#tq" x="32"/><use href="#tq" x="277"/><use href="#tq" x="522"/><use href="#tq" x="767"/>
<text class="tp" y="185"><tspan x="37">=136</tspan><tspan x="282">=140</tspan><tspan x="527">=137</tspan><tspan x="772">=135</tspan></text>
<text class="mn" y="197.5"><tspan x="32.5">141</tspan><tspan x="277.5">142</tspan><tspan x="522.5">143</tspan><tspan x="767.5">144</tspan></text>
<text class="la" y="281.5"><tspan x="275.5">293</tspan><tspan x="520.5">300</tspan><tspan x="765.5">300</tspan><tspan x="1010.5">241</tspan></text>
<text class="lb" y="294.5"><tspan x="275.5">169350</tspan><tspan x="520.5">170550</tspan><tspan x="765.5">171750</tspan><tspan x="1010.5">172714</tspan></text>
<text class="lc" y="308"><tspan x="275.5">0.00%</tspan><tspan x="520.5">0.00%</tspan><tspan x="765.5">0.00%</tspan><tspan x="1010.5">0.00%</tspan></text>
<rect class="bY" x="216" y="231.7" width="44.7" height="6.6"/><rect class="bO" x="216" y="262.2" width="44.7" height="6.6"/><rect class="bB" x="766.7" y="246.7" width="168.6" height="6.6"/><rect class="bO" x="766.7" y="262.2" width="168.6" height="6.6"/>
<use href="#nG" x="62.7"/><use href="#nG" x="124"/><use href="#nG" x="185.3"/><use href="#nG" x="307.3"/><use href="#nG" x="368.7"/><use href="#nG" x="430"/><use href="#nG" x="491.3"/><use href="#nG" x="552.7"/><use href="#nG" x="614"/><use href="#nG" x="675.3"/><use href="#nG" x="736.7"/>
<use href="#nR" x="93.3"/><use href="#nR" x="276.7"/><use href="#nR" x="338"/><use href="#nR" x="460.7"/><use href="#nR" x="583.3"/><use href="#nR" x="950.7"/><use href="#nR" x="990.7"/>
<use href="#nY" x="32"/><use href="#nY" x="154.7"/><use href="#nY" x="216"/><use href="#nY" x="276.7"/><use href="#nY" x="399.3"/><use href="#nY" x="522"/><use href="#nY" x="644.7"/><use href="#nY" x="706"/><use href="#nY" x="960"/><use href="#nY" x="981.3"/>
<use href="#nB" x="32"/><use href="#nB" x="154.7"/><use href="#nB" x="338"/><use href="#nB" x="399.3"/><use href="#nB" x="460.7"/><use href="#nB" x="522"/><use href="#nB" x="644.7"/><use href="#nB" x="766.7"/><use href="#nB" x="971.3"/>
<use href="#nO" x="93.3"/><use href="#nO" x="216"/><use href="#nO" x="583.3"/><use href="#nO" x="706"/><use href="#nO" x="766.7"/>
</g>

<g id="row37" transform="translate(0,5076)">
<use href="#grid1"/>
<text class="mn" y="197.5"><tspan x="32.5">145</tspan></text>
<text class="la" y="281.5"><tspan x="275.5">86</tspan></text>
<text class="lb" y="294.5"><tspan x="275.5">173058</tspan></text>
<text class="lc" y="308"><tspan x="275.5">0.00%</tspan></text>
<rect class="bG" x="32" y="201.7" width="91.3" height="6.6"/><rect class="bY" x="32" y="231.7" width="91.3" height="6.6"/>
<use href="#nG" x="32"/><use href="#nY" x="32"/>
</g>
</g>
</svg>
